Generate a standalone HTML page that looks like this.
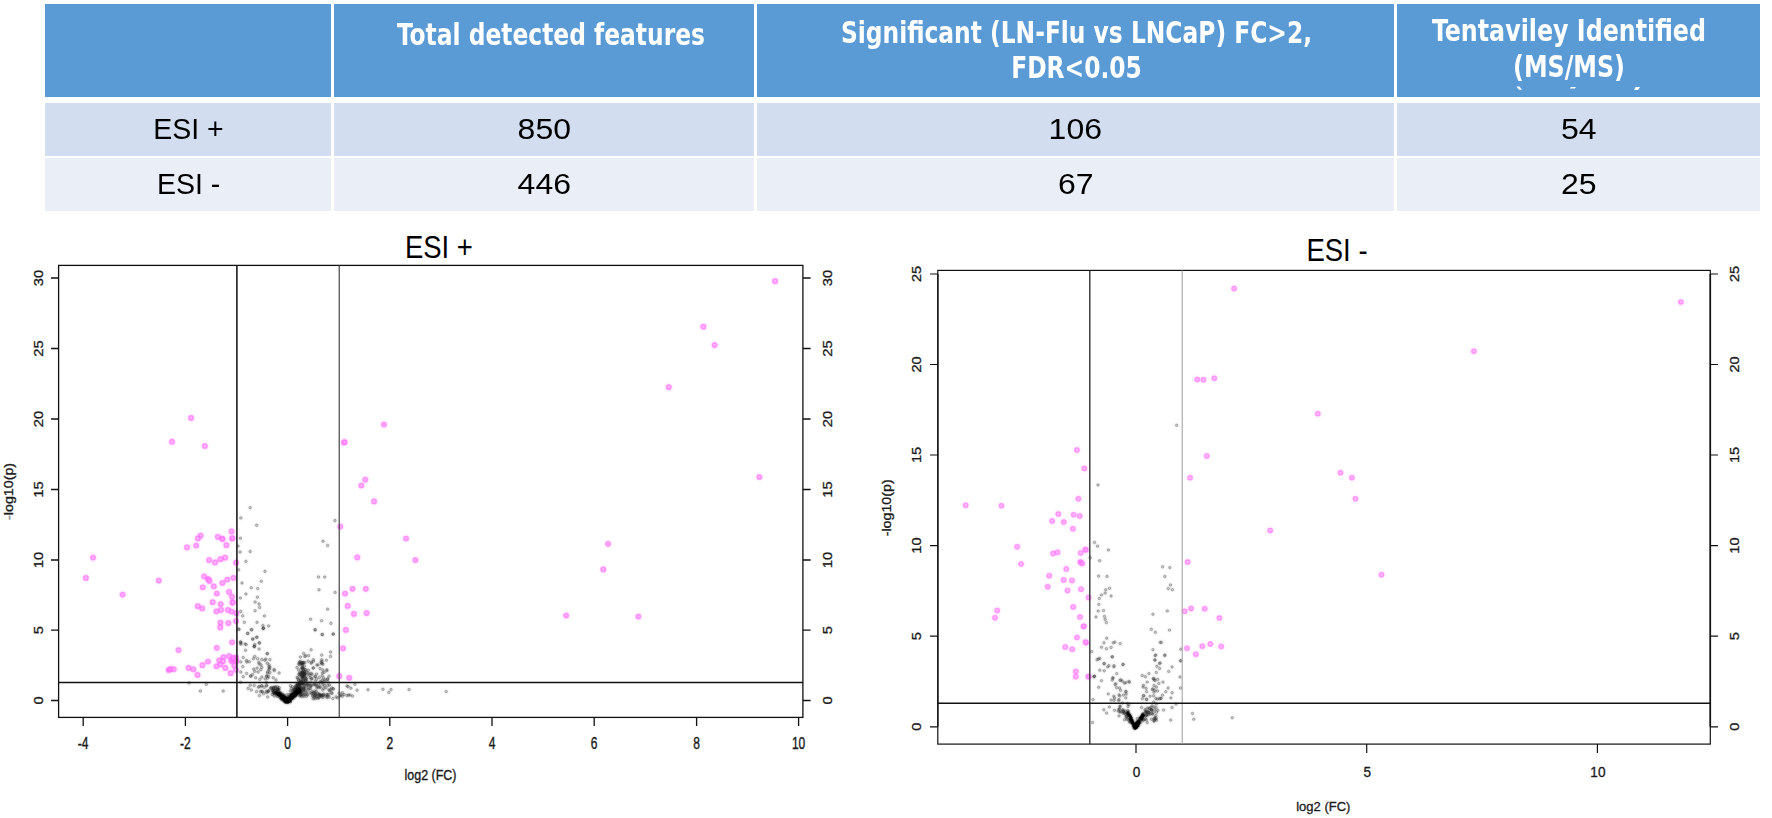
<!DOCTYPE html>
<html lang="en">
<head>
<meta charset="utf-8">
<title>ESI feature summary and volcano plots</title>
<style>
html,body{margin:0;padding:0;background:#fff;}
body{width:1772px;height:818px;position:relative;overflow:hidden;font-family:"Liberation Sans",sans-serif;}
.cell{position:absolute;box-sizing:border-box;display:flex;align-items:center;justify-content:center;text-align:center;}
.hd{background:#5b9bd5;top:4px;height:93px;}
.ht{position:absolute;color:#fff;font-family:"DejaVu Sans Condensed","DejaVu Sans","Liberation Sans",sans-serif;font-weight:bold;font-size:29.7px;line-height:35.4px;text-align:center;white-space:nowrap;transform:scaleX(.875);transform-origin:50% 50%;}
.r1{background:#d2deef;top:102.8px;height:52.9px;color:#000;font-size:30.3px;}
.r2{background:#eaeff7;top:157.7px;height:53.6px;color:#000;font-size:30.3px;}
.c1{left:45px;width:286px;}
.c2{left:334px;width:420px;}
.c3{left:757px;width:637px;}
.c4{left:1397px;width:363px;}
.cell span{position:relative;display:block;transform:scaleX(1.055);}
.c1 span{transform:scaleX(.94);left:.7px}
svg{position:absolute;left:0;top:0;}
svg text{font-family:"Liberation Sans",sans-serif;fill:#000;}
.ax{fill:#1a1a1a;stroke:#1a1a1a;stroke-width:.3px;}
.ttl{font-size:31.6px;}
.m{fill:#ff8cff;fill-opacity:.5;stroke:#ff4ffa;stroke-width:1.5;stroke-opacity:.78}
.n{stroke-width:1.3}
.g{fill:#000;fill-opacity:.16;stroke:#000;stroke-width:.85;stroke-opacity:.36}
.v{fill:#000;fill-opacity:.3;stroke:#000;stroke-width:.8;stroke-opacity:.35}
.soft{filter:blur(.8px)}
</style>
</head>
<body>
<!-- summary table -->
<div class="cell hd c1"></div>
<div class="cell hd c2"></div>
<div class="cell hd c3"></div>
<div class="cell hd c4"></div>
<div class="ht" style="left:334px;width:434px;top:17.3px">Total detected features</div>
<div class="ht" style="left:757px;width:639px;top:15px">Significant (LN-Flu vs LNCaP) FC&gt;2,<br>FDR&lt;0.05</div>
<div class="ht" style="left:1398px;width:342px;top:13.2px;transform:scaleX(.89)">Tentaviley Identified<br>(MS/MS)</div>

<div class="cell r1 c1"><span>ESI +</span></div>
<div class="cell r1 c2"><span>850</span></div>
<div class="cell r1 c3"><span>106</span></div>
<div class="cell r1 c4"><span>54</span></div>

<div class="cell r2 c1"><span>ESI -</span></div>
<div class="cell r2 c2"><span>446</span></div>
<div class="cell r2 c3"><span>67</span></div>
<div class="cell r2 c4"><span>25</span></div>

<svg width="1772" height="818" viewBox="0 0 1772 818">
<!-- clipped marks under (MS/MS) -->
<g fill="#fff"><path d="M1516.5 86.5l3 0l2.5 3.3l-3 0z"/><path d="M1571 87l5 0l-1.2 1.6l-5 0z"/><path d="M1635.5 87l4.5 0l-1.8 3l-4 0z"/></g>
<text class="ttl" text-anchor="middle" transform="translate(438.9,257.5) scale(.87,1)">ESI +</text>
<text class="ttl" text-anchor="middle" transform="translate(1337,260.5) scale(.87,1)">ESI -</text>
<use href="#lpg" class="soft" opacity=".5"/><use href="#rpg" class="soft" opacity=".5"/><use href="#lpd" class="soft" opacity=".55"/><use href="#rpd" class="soft" opacity=".55"/><use href="#lpv" class="soft" opacity=".5"/><use href="#rpv" class="soft" opacity=".5"/>
<g opacity=".78">
<g id="lpg"><circle class="g" cx="348.1" cy="686.6" r="1.25"/><circle class="g" cx="354.9" cy="684.3" r="1.25"/><circle class="g" cx="357.1" cy="690.2" r="1.25"/><circle class="g" cx="368.0" cy="689.7" r="1.25"/><circle class="g" cx="382.9" cy="689.3" r="1.25"/><circle class="g" cx="388.8" cy="692.5" r="1.25"/><circle class="g" cx="391.0" cy="689.6" r="1.25"/><circle class="g" cx="409.1" cy="689.6" r="1.25"/><circle class="g" cx="446.2" cy="691.6" r="1.25"/><circle class="g" cx="341.0" cy="695.0" r="1.25"/><circle class="g" cx="344.0" cy="694.5" r="1.25"/><circle class="g" cx="347.0" cy="695.5" r="1.25"/><circle class="g" cx="350.0" cy="695.0" r="1.25"/><circle class="g" cx="352.5" cy="696.0" r="1.25"/><circle class="g" cx="347.0" cy="686.0" r="1.25"/><circle class="g" cx="340.0" cy="696.0" r="1.25"/><circle class="g" cx="348.5" cy="695.0" r="1.25"/><circle class="g" cx="250.2" cy="507.7" r="1.25"/><circle class="g" cx="240.8" cy="517.9" r="1.25"/><circle class="g" cx="334.9" cy="520.6" r="1.25"/><circle class="g" cx="256.7" cy="525.3" r="1.25"/><circle class="g" cx="240.4" cy="538.2" r="1.25"/><circle class="g" cx="323.0" cy="541.2" r="1.25"/><circle class="g" cx="327.6" cy="545.5" r="1.25"/><circle class="g" cx="238.0" cy="546.1" r="1.25"/><circle class="g" cx="240.0" cy="552.0" r="1.25"/><circle class="g" cx="250.2" cy="551.5" r="1.25"/><circle class="g" cx="245.9" cy="561.4" r="1.25"/><circle class="g" cx="238.5" cy="569.8" r="1.25"/><circle class="g" cx="265.0" cy="571.3" r="1.25"/><circle class="g" cx="318.5" cy="577.0" r="1.25"/><circle class="g" cx="324.7" cy="577.0" r="1.25"/><circle class="g" cx="261.3" cy="581.3" r="1.25"/><circle class="g" cx="242.0" cy="583.0" r="1.25"/><circle class="g" cx="251.3" cy="587.8" r="1.25"/><circle class="g" cx="257.7" cy="588.6" r="1.25"/><circle class="g" cx="319.0" cy="589.8" r="1.25"/><circle class="g" cx="335.1" cy="592.4" r="1.25"/><circle class="g" cx="245.9" cy="594.0" r="1.25"/><circle class="g" cx="257.4" cy="597.2" r="1.25"/><circle class="g" cx="240.4" cy="598.1" r="1.25"/><circle class="g" cx="255.1" cy="602.1" r="1.25"/><circle class="g" cx="259.1" cy="604.0" r="1.25"/><circle class="g" cx="259.7" cy="607.6" r="1.25"/><circle class="g" cx="255.1" cy="610.7" r="1.25"/><circle class="g" cx="327.6" cy="609.2" r="1.25"/><circle class="g" cx="240.8" cy="611.5" r="1.25"/><circle class="g" cx="242.7" cy="615.9" r="1.25"/><circle class="g" cx="264.4" cy="615.9" r="1.25"/><circle class="g" cx="310.6" cy="619.2" r="1.25"/><circle class="g" cx="321.6" cy="620.7" r="1.25"/><circle class="g" cx="244.3" cy="622.3" r="1.25"/><circle class="g" cx="257.0" cy="622.3" r="1.25"/><circle class="g" cx="330.9" cy="623.4" r="1.25"/><circle class="g" cx="268.6" cy="625.9" r="1.25"/><circle class="g" cx="262.9" cy="625.4" r="1.25"/><circle class="g" cx="263.4" cy="628.1" r="1.25"/><circle class="g" cx="251.5" cy="629.7" r="1.25"/><circle class="g" cx="315.2" cy="629.7" r="1.25"/><circle class="g" cx="238.5" cy="629.1" r="1.25"/><circle class="g" cx="247.7" cy="633.4" r="1.25"/><circle class="g" cx="322.2" cy="634.5" r="1.25"/><circle class="g" cx="333.3" cy="633.9" r="1.25"/><circle class="g" cx="256.6" cy="637.4" r="1.25"/><circle class="g" cx="252.8" cy="638.9" r="1.25"/><circle class="g" cx="240.4" cy="642.1" r="1.25"/><circle class="g" cx="259.4" cy="642.6" r="1.25"/><circle class="g" cx="245.1" cy="644.0" r="1.25"/><circle class="g" cx="254.7" cy="644.5" r="1.25"/><circle class="g" cx="200.4" cy="691.0" r="1.25"/><circle class="g" cx="223.2" cy="691.0" r="1.25"/><circle class="g" cx="189.1" cy="682.9" r="1.25"/><circle class="g" cx="206.3" cy="684.3" r="1.25"/><circle class="g" cx="239.1" cy="629.4" r="1.25"/><circle class="g" cx="251.6" cy="629.7" r="1.25"/><circle class="g" cx="263.1" cy="628.7" r="1.25"/><circle class="g" cx="263.5" cy="628.3" r="1.25"/><circle class="g" cx="247.6" cy="633.4" r="1.25"/><circle class="g" cx="257.0" cy="637.1" r="1.25"/><circle class="g" cx="252.7" cy="639.2" r="1.25"/><circle class="g" cx="240.8" cy="642.0" r="1.25"/><circle class="g" cx="240.8" cy="644.2" r="1.25"/><circle class="g" cx="240.9" cy="643.2" r="1.25"/><circle class="g" cx="246.2" cy="644.6" r="1.25"/><circle class="g" cx="259.4" cy="643.2" r="1.25"/><circle class="g" cx="254.3" cy="646.4" r="1.25"/><circle class="g" cx="254.5" cy="646.2" r="1.25"/><circle class="g" cx="254.1" cy="646.7" r="1.25"/><circle class="g" cx="259.1" cy="649.0" r="1.25"/><circle class="g" cx="245.5" cy="650.3" r="1.25"/><circle class="g" cx="267.2" cy="653.7" r="1.25"/><circle class="g" cx="267.4" cy="653.5" r="1.25"/><circle class="g" cx="254.7" cy="656.4" r="1.25"/><circle class="g" cx="243.2" cy="657.5" r="1.25"/><circle class="g" cx="246.6" cy="660.5" r="1.25"/><circle class="g" cx="261.8" cy="659.5" r="1.25"/><circle class="g" cx="264.8" cy="660.2" r="1.25"/><circle class="g" cx="269.9" cy="659.7" r="1.25"/><circle class="g" cx="240.8" cy="661.9" r="1.25"/><circle class="g" cx="259.1" cy="663.9" r="1.25"/><circle class="g" cx="267.2" cy="663.2" r="1.25"/><circle class="g" cx="242.8" cy="666.6" r="1.25"/><circle class="g" cx="261.8" cy="667.3" r="1.25"/><circle class="g" cx="253.7" cy="669.0" r="1.25"/><circle class="g" cx="268.9" cy="669.3" r="1.25"/><circle class="g" cx="240.8" cy="672.0" r="1.25"/><circle class="g" cx="258.1" cy="672.0" r="1.25"/><circle class="g" cx="269.9" cy="672.7" r="1.25"/><circle class="g" cx="279.1" cy="673.0" r="1.25"/><circle class="g" cx="246.6" cy="673.4" r="1.25"/><circle class="g" cx="250.6" cy="676.2" r="1.25"/><circle class="g" cx="250.8" cy="676.0" r="1.25"/><circle class="g" cx="243.2" cy="676.7" r="1.25"/><circle class="g" cx="255.7" cy="677.8" r="1.25"/><circle class="g" cx="261.8" cy="677.1" r="1.25"/><circle class="g" cx="268.6" cy="676.4" r="1.25"/><circle class="g" cx="273.3" cy="677.8" r="1.25"/><circle class="g" cx="276.0" cy="680.1" r="1.25"/><circle class="g" cx="315.1" cy="629.9" r="1.25"/><circle class="g" cx="322.3" cy="634.6" r="1.25"/><circle class="g" cx="333.2" cy="634.2" r="1.25"/><circle class="g" cx="311.1" cy="649.8" r="1.25"/><circle class="g" cx="303.6" cy="653.4" r="1.25"/><circle class="g" cx="330.6" cy="652.0" r="1.25"/><circle class="g" cx="330.5" cy="656.4" r="1.25"/><circle class="g" cx="321.7" cy="655.1" r="1.25"/><circle class="g" cx="300.4" cy="657.1" r="1.25"/><circle class="g" cx="304.8" cy="656.4" r="1.25"/><circle class="g" cx="326.4" cy="660.2" r="1.25"/><circle class="g" cx="321.7" cy="659.8" r="1.25"/><circle class="g" cx="308.2" cy="661.2" r="1.25"/><circle class="g" cx="311.2" cy="663.2" r="1.25"/><circle class="g" cx="302.1" cy="663.9" r="1.25"/><circle class="g" cx="302.3" cy="663.6" r="1.25"/><circle class="g" cx="301.9" cy="664.2" r="1.25"/><circle class="g" cx="321.7" cy="663.5" r="1.25"/><circle class="g" cx="321.9" cy="663.3" r="1.25"/><circle class="g" cx="318.0" cy="664.9" r="1.25"/><circle class="g" cx="313.2" cy="668.1" r="1.25"/><circle class="g" cx="313.4" cy="667.9" r="1.25"/><circle class="g" cx="320.0" cy="668.6" r="1.25"/><circle class="g" cx="302.4" cy="668.6" r="1.25"/><circle class="g" cx="302.6" cy="668.3" r="1.25"/><circle class="g" cx="326.8" cy="670.7" r="1.25"/><circle class="g" cx="324.1" cy="672.3" r="1.25"/><circle class="g" cx="302.4" cy="672.0" r="1.25"/><circle class="g" cx="302.6" cy="671.7" r="1.25"/><circle class="g" cx="307.8" cy="672.7" r="1.25"/><circle class="g" cx="329.0" cy="676.2" r="1.25"/><circle class="g" cx="299.7" cy="675.4" r="1.25"/><circle class="g" cx="303.1" cy="676.7" r="1.25"/><circle class="g" cx="309.9" cy="675.4" r="1.25"/><circle class="g" cx="315.3" cy="676.7" r="1.25"/><circle class="g" cx="319.3" cy="677.4" r="1.25"/><circle class="g" cx="297.7" cy="678.1" r="1.25"/><circle class="g" cx="306.5" cy="678.8" r="1.25"/><circle class="g" cx="311.9" cy="678.4" r="1.25"/><circle class="g" cx="301.9" cy="676.0" r="1.25"/><circle class="g" cx="303.6" cy="662.7" r="1.25"/><circle class="g" cx="300.5" cy="662.3" r="1.25"/><circle class="g" cx="302.0" cy="672.7" r="1.25"/><circle class="g" cx="304.8" cy="662.6" r="1.25"/><circle class="g" cx="303.0" cy="663.1" r="1.25"/><circle class="g" cx="298.8" cy="663.8" r="1.25"/><circle class="g" cx="304.4" cy="666.1" r="1.25"/><circle class="g" cx="298.8" cy="674.3" r="1.25"/><circle class="g" cx="298.7" cy="670.1" r="1.25"/><circle class="g" cx="303.2" cy="680.7" r="1.25"/><circle class="g" cx="302.4" cy="667.7" r="1.25"/><circle class="g" cx="303.2" cy="668.1" r="1.25"/><circle class="g" cx="303.4" cy="679.8" r="1.25"/><circle class="g" cx="303.7" cy="675.7" r="1.25"/><circle class="g" cx="305.1" cy="669.6" r="1.25"/><circle class="g" cx="301.7" cy="662.4" r="1.25"/><circle class="g" cx="302.3" cy="665.7" r="1.25"/><circle class="g" cx="301.5" cy="668.2" r="1.25"/><circle class="g" cx="300.4" cy="674.5" r="1.25"/><circle class="g" cx="300.7" cy="679.3" r="1.25"/><circle class="g" cx="303.0" cy="677.1" r="1.25"/><circle class="g" cx="302.6" cy="673.1" r="1.25"/><circle class="g" cx="305.4" cy="681.1" r="1.25"/><circle class="g" cx="302.3" cy="683.5" r="1.25"/><circle class="g" cx="300.7" cy="663.7" r="1.25"/><circle class="g" cx="299.3" cy="664.5" r="1.25"/><circle class="g" cx="304.3" cy="672.2" r="1.25"/><circle class="g" cx="305.7" cy="678.6" r="1.25"/><circle class="g" cx="303.3" cy="674.2" r="1.25"/><circle class="g" cx="303.9" cy="677.0" r="1.25"/><circle class="g" cx="301.2" cy="674.7" r="1.25"/><circle class="g" cx="300.4" cy="680.3" r="1.25"/><circle class="g" cx="301.3" cy="682.7" r="1.25"/><circle class="g" cx="299.3" cy="662.4" r="1.25"/><circle class="g" cx="303.0" cy="677.1" r="1.25"/><circle class="g" cx="298.3" cy="679.9" r="1.25"/><circle class="g" cx="297.0" cy="667.5" r="1.25"/><circle class="g" cx="300.0" cy="661.5" r="1.25"/><circle class="g" cx="304.7" cy="671.6" r="1.25"/><circle class="g" cx="303.0" cy="662.4" r="1.25"/><circle class="g" cx="303.5" cy="678.7" r="1.25"/><circle class="g" cx="303.6" cy="670.0" r="1.25"/><circle class="g" cx="303.7" cy="681.0" r="1.25"/><circle class="g" cx="304.6" cy="673.6" r="1.25"/><circle class="g" cx="305.4" cy="683.5" r="1.25"/><circle class="g" cx="306.4" cy="675.6" r="1.25"/><circle class="g" cx="297.2" cy="677.4" r="1.25"/><circle class="g" cx="298.9" cy="684.5" r="1.25"/><circle class="g" cx="309.1" cy="674.0" r="1.25"/><circle class="g" cx="304.6" cy="675.0" r="1.25"/><circle class="g" cx="305.8" cy="678.3" r="1.25"/><circle class="g" cx="301.2" cy="672.1" r="1.25"/><circle class="g" cx="302.0" cy="677.4" r="1.25"/><circle class="g" cx="300.4" cy="684.4" r="1.25"/><circle class="g" cx="306.8" cy="681.0" r="1.25"/><circle class="g" cx="298.7" cy="680.8" r="1.25"/><circle class="g" cx="303.0" cy="672.7" r="1.25"/><circle class="g" cx="308.4" cy="683.4" r="1.25"/><circle class="g" cx="299.9" cy="682.4" r="1.25"/><circle class="g" cx="300.7" cy="673.3" r="1.25"/><circle class="g" cx="305.7" cy="680.2" r="1.25"/><circle class="g" cx="304.7" cy="674.7" r="1.25"/><circle class="g" cx="304.0" cy="674.1" r="1.25"/><circle class="g" cx="302.9" cy="672.0" r="1.25"/><circle class="g" cx="304.5" cy="674.0" r="1.25"/><circle class="g" cx="306.2" cy="672.3" r="1.25"/><circle class="g" cx="305.5" cy="683.4" r="1.25"/><circle class="g" cx="302.0" cy="675.3" r="1.25"/><circle class="g" cx="302.2" cy="676.5" r="1.25"/><circle class="g" cx="302.3" cy="683.0" r="1.25"/><circle class="g" cx="304.9" cy="684.9" r="1.25"/><circle class="g" cx="299.6" cy="673.1" r="1.25"/><circle class="g" cx="304.4" cy="673.3" r="1.25"/><circle class="g" cx="302.0" cy="682.8" r="1.25"/><circle class="g" cx="308.7" cy="655.6" r="1.25"/><circle class="g" cx="326.9" cy="669.8" r="1.25"/><circle class="g" cx="308.4" cy="670.2" r="1.25"/><circle class="g" cx="305.6" cy="669.8" r="1.25"/><circle class="g" cx="327.5" cy="679.2" r="1.25"/><circle class="g" cx="321.0" cy="662.3" r="1.25"/><circle class="g" cx="313.4" cy="659.7" r="1.25"/><circle class="g" cx="322.8" cy="669.9" r="1.25"/><circle class="g" cx="322.9" cy="664.2" r="1.25"/><circle class="g" cx="310.1" cy="677.7" r="1.25"/><circle class="g" cx="327.7" cy="678.9" r="1.25"/><circle class="g" cx="323.5" cy="677.9" r="1.25"/><circle class="g" cx="322.0" cy="661.3" r="1.25"/><circle class="g" cx="316.9" cy="665.0" r="1.25"/><circle class="g" cx="305.7" cy="655.8" r="1.25"/><circle class="g" cx="311.4" cy="662.3" r="1.25"/><circle class="g" cx="320.9" cy="681.8" r="1.25"/><circle class="g" cx="315.3" cy="681.2" r="1.25"/><circle class="g" cx="327.7" cy="681.7" r="1.25"/><circle class="g" cx="313.4" cy="661.2" r="1.25"/><circle class="g" cx="312.1" cy="674.2" r="1.25"/><circle class="g" cx="311.7" cy="678.9" r="1.25"/><circle class="g" cx="324.2" cy="681.2" r="1.25"/><circle class="g" cx="316.6" cy="679.2" r="1.25"/><circle class="g" cx="322.4" cy="672.9" r="1.25"/><circle class="g" cx="319.9" cy="682.0" r="1.25"/><circle class="g" cx="322.1" cy="680.3" r="1.25"/><circle class="g" cx="316.6" cy="674.0" r="1.25"/><circle class="g" cx="322.2" cy="675.7" r="1.25"/><circle class="g" cx="322.4" cy="682.7" r="1.25"/><circle class="g" cx="315.1" cy="676.4" r="1.25"/><circle class="g" cx="325.0" cy="680.0" r="1.25"/><circle class="g" cx="311.1" cy="673.4" r="1.25"/><circle class="g" cx="310.7" cy="682.0" r="1.25"/><circle class="g" cx="265.8" cy="659.1" r="1.25"/><circle class="g" cx="266.4" cy="682.4" r="1.25"/><circle class="g" cx="261.0" cy="664.8" r="1.25"/><circle class="g" cx="257.6" cy="658.7" r="1.25"/><circle class="g" cx="240.5" cy="682.2" r="1.25"/><circle class="g" cx="260.8" cy="669.7" r="1.25"/><circle class="g" cx="269.9" cy="667.1" r="1.25"/><circle class="g" cx="267.9" cy="678.1" r="1.25"/><circle class="g" cx="246.8" cy="662.1" r="1.25"/><circle class="g" cx="249.4" cy="661.7" r="1.25"/><circle class="g" cx="258.8" cy="662.3" r="1.25"/><circle class="g" cx="253.4" cy="658.7" r="1.25"/><circle class="g" cx="269.1" cy="664.9" r="1.25"/><circle class="g" cx="254.7" cy="671.3" r="1.25"/><circle class="g" cx="268.9" cy="666.8" r="1.25"/><circle class="g" cx="269.4" cy="669.0" r="1.25"/><circle class="g" cx="266.9" cy="675.9" r="1.25"/><circle class="g" cx="252.5" cy="674.6" r="1.25"/><circle class="g" cx="257.1" cy="668.1" r="1.25"/><circle class="g" cx="274.4" cy="670.6" r="1.25"/><circle class="g" cx="265.3" cy="678.9" r="1.25"/><circle class="g" cx="267.6" cy="672.9" r="1.25"/><circle class="g" cx="266.5" cy="676.3" r="1.25"/><circle class="g" cx="274.0" cy="669.6" r="1.25"/><circle class="g" cx="267.7" cy="671.7" r="1.25"/><circle class="g" cx="259.8" cy="679.6" r="1.25"/><circle class="g" cx="268.2" cy="691.7" r="1.25"/><circle class="g" cx="274.2" cy="695.9" r="1.25"/><circle class="g" cx="266.6" cy="692.4" r="1.25"/><circle class="g" cx="268.1" cy="691.1" r="1.25"/><circle class="g" cx="272.6" cy="690.4" r="1.25"/><circle class="g" cx="268.8" cy="690.7" r="1.25"/><circle class="g" cx="278.6" cy="693.4" r="1.25"/><circle class="g" cx="277.0" cy="696.3" r="1.25"/><circle class="g" cx="262.2" cy="691.7" r="1.25"/><circle class="g" cx="278.6" cy="695.1" r="1.25"/><circle class="g" cx="259.3" cy="686.5" r="1.25"/><circle class="g" cx="266.6" cy="685.9" r="1.25"/><circle class="g" cx="261.8" cy="685.9" r="1.25"/><circle class="g" cx="272.1" cy="694.4" r="1.25"/><circle class="g" cx="277.5" cy="686.9" r="1.25"/><circle class="g" cx="273.2" cy="692.9" r="1.25"/><circle class="g" cx="259.4" cy="695.6" r="1.25"/><circle class="g" cx="279.2" cy="687.6" r="1.25"/><circle class="g" cx="278.9" cy="689.8" r="1.25"/><circle class="g" cx="267.7" cy="696.9" r="1.25"/><circle class="g" cx="276.0" cy="686.9" r="1.25"/><circle class="g" cx="266.4" cy="691.2" r="1.25"/><circle class="g" cx="264.1" cy="687.3" r="1.25"/><circle class="g" cx="263.6" cy="693.7" r="1.25"/><circle class="g" cx="256.5" cy="691.6" r="1.25"/><circle class="g" cx="266.6" cy="685.2" r="1.25"/><circle class="g" cx="251.3" cy="690.0" r="1.25"/><circle class="g" cx="254.2" cy="685.5" r="1.25"/><circle class="g" cx="261.8" cy="691.3" r="1.25"/><circle class="g" cx="261.5" cy="685.8" r="1.25"/><circle class="g" cx="250.2" cy="685.3" r="1.25"/><circle class="g" cx="258.5" cy="687.2" r="1.25"/><circle class="g" cx="248.1" cy="688.4" r="1.25"/><circle class="g" cx="260.6" cy="691.6" r="1.25"/><circle class="g" cx="311.0" cy="686.2" r="1.25"/><circle class="g" cx="331.5" cy="692.6" r="1.25"/><circle class="g" cx="324.7" cy="685.3" r="1.25"/><circle class="g" cx="304.8" cy="694.3" r="1.25"/><circle class="g" cx="316.2" cy="685.1" r="1.25"/><circle class="g" cx="332.1" cy="693.5" r="1.25"/><circle class="g" cx="327.9" cy="685.3" r="1.25"/><circle class="g" cx="329.5" cy="685.0" r="1.25"/><circle class="g" cx="329.7" cy="690.8" r="1.25"/><circle class="g" cx="313.5" cy="692.3" r="1.25"/><circle class="g" cx="331.7" cy="688.0" r="1.25"/><circle class="g" cx="307.0" cy="691.9" r="1.25"/><circle class="g" cx="310.4" cy="685.6" r="1.25"/><circle class="g" cx="308.0" cy="684.8" r="1.25"/><circle class="g" cx="309.3" cy="688.7" r="1.25"/><circle class="g" cx="312.5" cy="695.4" r="1.25"/><circle class="g" cx="312.0" cy="691.5" r="1.25"/><circle class="g" cx="308.5" cy="689.2" r="1.25"/><circle class="g" cx="303.6" cy="687.8" r="1.25"/><circle class="g" cx="303.5" cy="695.0" r="1.25"/><circle class="g" cx="320.1" cy="686.8" r="1.25"/><circle class="g" cx="317.7" cy="698.0" r="1.25"/><circle class="g" cx="306.3" cy="696.3" r="1.25"/><circle class="g" cx="316.4" cy="691.4" r="1.25"/><circle class="g" cx="328.9" cy="689.9" r="1.25"/><circle class="g" cx="318.7" cy="694.3" r="1.25"/><circle class="g" cx="333.5" cy="689.1" r="1.25"/><circle class="g" cx="328.8" cy="694.6" r="1.25"/><circle class="g" cx="322.7" cy="690.1" r="1.25"/><circle class="g" cx="313.8" cy="684.8" r="1.25"/><circle class="g" cx="307.0" cy="685.1" r="1.25"/><circle class="g" cx="326.0" cy="687.8" r="1.25"/><circle class="g" cx="308.1" cy="685.3" r="1.25"/><circle class="g" cx="329.1" cy="697.1" r="1.25"/><circle class="g" cx="323.8" cy="688.2" r="1.25"/><circle class="g" cx="310.5" cy="688.4" r="1.25"/><circle class="g" cx="317.2" cy="686.4" r="1.25"/><circle class="g" cx="316.8" cy="687.9" r="1.25"/><circle class="g" cx="332.8" cy="698.6" r="1.25"/><circle class="g" cx="320.0" cy="687.7" r="1.25"/><circle class="g" cx="332.9" cy="688.6" r="1.25"/><circle class="g" cx="314.1" cy="684.0" r="1.25"/><circle class="g" cx="314.8" cy="691.1" r="1.25"/><circle class="g" cx="318.6" cy="687.0" r="1.25"/><circle class="g" cx="318.6" cy="684.1" r="1.25"/><circle class="g" cx="311.2" cy="685.3" r="1.25"/><circle class="g" cx="315.4" cy="684.6" r="1.25"/><circle class="g" cx="303.7" cy="688.6" r="1.25"/><circle class="g" cx="310.2" cy="692.8" r="1.25"/><circle class="g" cx="319.4" cy="695.3" r="1.25"/><circle class="g" cx="323.4" cy="694.7" r="1.25"/><circle class="g" cx="330.3" cy="689.8" r="1.25"/><circle class="g" cx="313.1" cy="698.8" r="1.25"/><circle class="g" cx="307.6" cy="694.9" r="1.25"/><circle class="g" cx="322.9" cy="684.7" r="1.25"/><circle class="g" cx="322.9" cy="697.4" r="1.25"/><circle class="g" cx="311.8" cy="693.5" r="1.25"/><circle class="g" cx="314.7" cy="695.9" r="1.25"/><circle class="g" cx="317.7" cy="693.4" r="1.25"/><circle class="g" cx="319.2" cy="697.2" r="1.25"/><circle class="g" cx="313.0" cy="696.6" r="1.25"/><circle class="g" cx="314.7" cy="697.6" r="1.25"/><circle class="g" cx="315.7" cy="695.0" r="1.25"/><circle class="g" cx="317.0" cy="696.4" r="1.25"/><circle class="g" cx="320.5" cy="695.0" r="1.25"/><circle class="g" cx="321.6" cy="696.7" r="1.25"/><circle class="g" cx="315.1" cy="693.7" r="1.25"/><circle class="g" cx="315.5" cy="694.6" r="1.25"/><circle class="g" cx="315.3" cy="698.7" r="1.25"/><circle class="g" cx="320.2" cy="695.5" r="1.25"/><circle class="g" cx="314.7" cy="692.9" r="1.25"/><circle class="g" cx="318.6" cy="698.2" r="1.25"/><circle class="g" cx="323.0" cy="695.5" r="1.25"/><circle class="g" cx="321.8" cy="695.2" r="1.25"/><circle class="g" cx="327.2" cy="696.3" r="1.25"/><circle class="g" cx="327.1" cy="697.6" r="1.25"/><circle class="g" cx="319.2" cy="694.0" r="1.25"/><circle class="g" cx="323.5" cy="694.3" r="1.25"/><circle class="g" cx="313.0" cy="693.6" r="1.25"/><circle class="g" cx="315.7" cy="696.4" r="1.25"/><circle class="g" cx="321.2" cy="695.4" r="1.25"/><circle class="g" cx="327.4" cy="694.7" r="1.25"/><circle class="g" cx="325.5" cy="696.1" r="1.25"/><circle class="g" cx="320.1" cy="695.2" r="1.25"/><circle class="g" cx="326.7" cy="694.5" r="1.25"/><circle class="g" cx="339.2" cy="693.2" r="1.25"/><circle class="g" cx="342.4" cy="692.7" r="1.25"/><circle class="g" cx="336.1" cy="696.9" r="1.25"/><circle class="g" cx="337.6" cy="697.8" r="1.25"/><circle class="g" cx="350.9" cy="688.2" r="1.25"/><circle class="g" cx="342.3" cy="696.2" r="1.25"/><circle class="g" cx="298.4" cy="693.6" r="1.25"/><circle class="g" cx="299.1" cy="693.1" r="1.25"/><circle class="g" cx="301.1" cy="691.6" r="1.25"/><circle class="g" cx="303.7" cy="689.4" r="1.25"/><circle class="g" cx="297.7" cy="688.7" r="1.25"/><circle class="g" cx="296.1" cy="695.4" r="1.25"/><circle class="g" cx="305.3" cy="691.1" r="1.25"/><circle class="g" cx="301.0" cy="694.3" r="1.25"/><circle class="g" cx="301.9" cy="694.4" r="1.25"/><circle class="g" cx="294.5" cy="689.2" r="1.25"/><circle class="g" cx="300.6" cy="695.0" r="1.25"/><circle class="g" cx="299.4" cy="688.6" r="1.25"/><circle class="g" cx="297.7" cy="689.2" r="1.25"/><circle class="g" cx="295.9" cy="695.2" r="1.25"/><circle class="g" cx="296.7" cy="691.1" r="1.25"/><circle class="g" cx="306.8" cy="694.3" r="1.25"/><circle class="g" cx="300.2" cy="689.3" r="1.25"/><circle class="g" cx="300.5" cy="695.5" r="1.25"/><circle class="g" cx="301.2" cy="694.5" r="1.25"/><circle class="g" cx="299.4" cy="692.4" r="1.25"/><circle class="g" cx="298.3" cy="692.2" r="1.25"/><circle class="g" cx="303.7" cy="687.0" r="1.25"/><circle class="g" cx="298.8" cy="691.7" r="1.25"/><circle class="g" cx="296.9" cy="690.1" r="1.25"/><circle class="g" cx="301.8" cy="696.6" r="1.25"/><circle class="g" cx="301.3" cy="691.9" r="1.25"/><circle class="g" cx="293.4" cy="696.4" r="1.25"/><circle class="g" cx="299.3" cy="690.9" r="1.25"/><circle class="g" cx="295.0" cy="690.8" r="1.25"/><circle class="g" cx="295.1" cy="691.2" r="1.25"/><circle class="g" cx="300.7" cy="691.1" r="1.25"/><circle class="g" cx="300.0" cy="688.6" r="1.25"/><circle class="g" cx="304.1" cy="689.2" r="1.25"/><circle class="g" cx="292.5" cy="690.5" r="1.25"/><circle class="g" cx="296.3" cy="688.2" r="1.25"/><circle class="g" cx="297.7" cy="691.8" r="1.25"/><circle class="g" cx="294.7" cy="690.6" r="1.25"/><circle class="g" cx="304.1" cy="692.9" r="1.25"/><circle class="g" cx="298.5" cy="691.4" r="1.25"/><circle class="g" cx="298.6" cy="690.9" r="1.25"/><circle class="g" cx="301.6" cy="690.7" r="1.25"/><circle class="g" cx="290.3" cy="690.9" r="1.25"/><circle class="g" cx="295.8" cy="692.8" r="1.25"/><circle class="g" cx="296.8" cy="691.4" r="1.25"/><circle class="g" cx="306.8" cy="688.1" r="1.25"/><circle class="g" cx="295.0" cy="687.0" r="1.25"/><circle class="g" cx="290.4" cy="685.7" r="1.25"/><circle class="g" cx="300.3" cy="689.2" r="1.25"/><circle class="g" cx="292.3" cy="686.8" r="1.25"/><circle class="g" cx="301.2" cy="688.8" r="1.25"/><circle class="g" cx="297.7" cy="691.9" r="1.25"/><circle class="g" cx="303.9" cy="696.4" r="1.25"/><circle class="g" cx="302.7" cy="691.4" r="1.25"/><circle class="g" cx="299.7" cy="696.0" r="1.25"/><circle class="g" cx="304.1" cy="690.1" r="1.25"/><circle class="g" cx="300.6" cy="691.8" r="1.25"/><circle class="g" cx="299.2" cy="689.6" r="1.25"/><circle class="g" cx="294.2" cy="689.5" r="1.25"/><circle class="g" cx="293.4" cy="694.4" r="1.25"/><circle class="g" cx="300.9" cy="687.6" r="1.25"/><circle class="g" cx="277.6" cy="689.7" r="1.25"/><circle class="g" cx="273.3" cy="691.4" r="1.25"/><circle class="g" cx="282.7" cy="699.3" r="1.25"/><circle class="g" cx="287.8" cy="701.7" r="1.25"/><circle class="g" cx="273.9" cy="692.6" r="1.25"/><circle class="g" cx="279.7" cy="696.9" r="1.25"/><circle class="g" cx="276.0" cy="690.4" r="1.25"/><circle class="g" cx="282.2" cy="695.5" r="1.25"/><circle class="g" cx="282.8" cy="696.2" r="1.25"/><circle class="g" cx="279.9" cy="697.5" r="1.25"/><circle class="g" cx="273.5" cy="688.6" r="1.25"/><circle class="g" cx="280.1" cy="692.6" r="1.25"/><circle class="g" cx="283.0" cy="695.1" r="1.25"/><circle class="g" cx="281.0" cy="697.8" r="1.25"/><circle class="g" cx="273.8" cy="689.3" r="1.25"/><circle class="g" cx="283.9" cy="698.0" r="1.25"/><circle class="g" cx="281.3" cy="699.4" r="1.25"/><circle class="g" cx="275.0" cy="690.2" r="1.25"/><circle class="g" cx="283.9" cy="696.1" r="1.25"/><circle class="g" cx="271.3" cy="687.5" r="1.25"/><circle class="g" cx="277.8" cy="690.2" r="1.25"/><circle class="g" cx="277.2" cy="693.7" r="1.25"/><circle class="g" cx="278.2" cy="691.3" r="1.25"/><circle class="g" cx="278.4" cy="694.4" r="1.25"/><circle class="g" cx="274.8" cy="690.8" r="1.25"/><circle class="g" cx="289.3" cy="700.8" r="1.25"/><circle class="g" cx="275.0" cy="687.0" r="1.25"/><circle class="g" cx="273.6" cy="688.6" r="1.25"/><circle class="g" cx="281.2" cy="693.1" r="1.25"/><circle class="g" cx="273.4" cy="690.9" r="1.25"/><circle class="g" cx="286.2" cy="699.5" r="1.25"/><circle class="g" cx="272.9" cy="691.0" r="1.25"/><circle class="g" cx="277.3" cy="689.3" r="1.25"/><circle class="g" cx="279.2" cy="694.7" r="1.25"/><circle class="g" cx="282.9" cy="697.2" r="1.25"/><circle class="g" cx="277.4" cy="689.4" r="1.25"/><circle class="g" cx="284.1" cy="696.3" r="1.25"/><circle class="g" cx="286.9" cy="697.9" r="1.25"/><circle class="g" cx="273.6" cy="687.2" r="1.25"/><circle class="g" cx="271.5" cy="688.5" r="1.25"/><circle class="g" cx="273.5" cy="687.8" r="1.25"/><circle class="g" cx="276.7" cy="695.0" r="1.25"/><circle class="g" cx="288.4" cy="699.5" r="1.25"/><circle class="g" cx="288.9" cy="698.5" r="1.25"/><circle class="g" cx="278.7" cy="689.1" r="1.25"/><circle class="g" cx="279.7" cy="695.1" r="1.25"/><circle class="g" cx="283.0" cy="694.6" r="1.25"/><circle class="g" cx="275.4" cy="692.5" r="1.25"/><circle class="g" cx="278.7" cy="694.9" r="1.25"/><circle class="g" cx="277.2" cy="688.8" r="1.25"/><circle class="g" cx="270.7" cy="688.1" r="1.25"/><circle class="g" cx="277.0" cy="693.4" r="1.25"/><circle class="g" cx="288.4" cy="697.3" r="1.25"/><circle class="g" cx="277.9" cy="690.0" r="1.25"/><circle class="g" cx="279.1" cy="692.8" r="1.25"/><circle class="g" cx="295.7" cy="690.3" r="1.25"/><circle class="g" cx="286.8" cy="694.8" r="1.25"/><circle class="g" cx="291.4" cy="688.5" r="1.25"/><circle class="g" cx="289.0" cy="698.9" r="1.25"/><circle class="g" cx="299.5" cy="686.9" r="1.25"/><circle class="g" cx="288.9" cy="696.5" r="1.25"/><circle class="g" cx="297.8" cy="684.6" r="1.25"/><circle class="g" cx="300.2" cy="683.3" r="1.25"/><circle class="g" cx="301.6" cy="683.3" r="1.25"/><circle class="g" cx="297.8" cy="692.1" r="1.25"/><circle class="g" cx="301.2" cy="682.0" r="1.25"/><circle class="g" cx="293.4" cy="694.1" r="1.25"/><circle class="g" cx="295.2" cy="689.7" r="1.25"/><circle class="g" cx="295.6" cy="692.7" r="1.25"/><circle class="g" cx="300.9" cy="687.5" r="1.25"/><circle class="g" cx="291.0" cy="695.8" r="1.25"/><circle class="g" cx="289.8" cy="697.1" r="1.25"/><circle class="g" cx="302.9" cy="684.0" r="1.25"/><circle class="g" cx="295.1" cy="689.5" r="1.25"/><circle class="g" cx="299.6" cy="691.2" r="1.25"/><circle class="g" cx="297.1" cy="683.8" r="1.25"/><circle class="g" cx="297.1" cy="691.0" r="1.25"/><circle class="g" cx="297.0" cy="693.3" r="1.25"/><circle class="g" cx="293.0" cy="692.3" r="1.25"/><circle class="g" cx="293.7" cy="698.2" r="1.25"/><circle class="g" cx="293.0" cy="694.1" r="1.25"/><circle class="g" cx="297.7" cy="688.8" r="1.25"/><circle class="g" cx="299.6" cy="685.4" r="1.25"/><circle class="g" cx="304.6" cy="686.6" r="1.25"/><circle class="g" cx="302.8" cy="683.6" r="1.25"/><circle class="g" cx="299.3" cy="684.5" r="1.25"/><circle class="g" cx="287.6" cy="702.3" r="1.25"/><circle class="g" cx="291.5" cy="695.3" r="1.25"/><circle class="g" cx="292.9" cy="695.3" r="1.25"/><circle class="g" cx="288.8" cy="698.7" r="1.25"/><circle class="g" cx="288.9" cy="697.8" r="1.25"/><circle class="g" cx="297.9" cy="684.0" r="1.25"/><circle class="g" cx="295.8" cy="685.8" r="1.25"/><circle class="g" cx="297.4" cy="684.7" r="1.25"/><circle class="g" cx="294.6" cy="692.4" r="1.25"/><circle class="g" cx="290.8" cy="694.5" r="1.25"/><circle class="g" cx="297.2" cy="691.6" r="1.25"/><circle class="g" cx="291.6" cy="695.4" r="1.25"/><circle class="g" cx="296.8" cy="689.5" r="1.25"/><circle class="g" cx="300.4" cy="682.8" r="1.25"/><circle class="g" cx="298.9" cy="688.0" r="1.25"/><circle class="g" cx="293.2" cy="692.0" r="1.25"/><circle class="g" cx="297.7" cy="687.5" r="1.25"/><circle class="g" cx="297.2" cy="687.0" r="1.25"/><circle class="g" cx="289.0" cy="694.7" r="1.25"/><circle class="g" cx="295.6" cy="690.6" r="1.25"/><circle class="g" cx="298.7" cy="685.6" r="1.25"/><circle class="g" cx="299.4" cy="683.1" r="1.25"/><circle class="g" cx="298.3" cy="689.8" r="1.25"/><circle class="g" cx="293.7" cy="689.8" r="1.25"/><circle class="g" cx="301.7" cy="684.0" r="1.25"/><circle class="g" cx="298.7" cy="690.8" r="1.25"/><circle class="g" cx="296.2" cy="691.9" r="1.25"/><circle class="g" cx="299.4" cy="684.7" r="1.25"/><circle class="g" cx="294.9" cy="692.2" r="1.25"/><circle class="g" cx="298.2" cy="687.4" r="1.25"/><circle class="g" cx="302.0" cy="683.4" r="1.25"/><circle class="g" cx="293.0" cy="694.6" r="1.25"/><circle class="g" cx="301.6" cy="681.7" r="1.25"/><circle class="g" cx="297.9" cy="686.8" r="1.25"/><circle class="g" cx="296.1" cy="686.7" r="1.25"/><circle class="g" cx="295.0" cy="688.1" r="1.25"/><circle class="g" cx="297.0" cy="685.1" r="1.25"/><circle class="g" cx="290.9" cy="698.1" r="1.25"/><circle class="g" cx="300.3" cy="687.2" r="1.25"/></g>
<g id="rpg"><circle class="g" cx="1192.5" cy="713.5" r="1.22"/><circle class="g" cx="1193.7" cy="719.2" r="1.22"/><circle class="g" cx="1232.3" cy="717.7" r="1.22"/><circle class="g" cx="1176.7" cy="425.3" r="1.22"/><circle class="g" cx="1098.0" cy="484.9" r="1.22"/><circle class="g" cx="1094.5" cy="542.4" r="1.22"/><circle class="g" cx="1097.6" cy="546.2" r="1.22"/><circle class="g" cx="1108.4" cy="550.0" r="1.22"/><circle class="g" cx="1090.2" cy="557.7" r="1.22"/><circle class="g" cx="1099.6" cy="560.7" r="1.22"/><circle class="g" cx="1162.6" cy="566.8" r="1.22"/><circle class="g" cx="1169.8" cy="567.6" r="1.22"/><circle class="g" cx="1098.6" cy="576.1" r="1.22"/><circle class="g" cx="1107.0" cy="576.4" r="1.22"/><circle class="g" cx="1164.8" cy="576.5" r="1.22"/><circle class="g" cx="1170.5" cy="584.9" r="1.22"/><circle class="g" cx="1168.3" cy="588.6" r="1.22"/><circle class="g" cx="1172.4" cy="589.7" r="1.22"/><circle class="g" cx="1109.6" cy="588.3" r="1.22"/><circle class="g" cx="1105.7" cy="589.7" r="1.22"/><circle class="g" cx="1105.2" cy="593.0" r="1.22"/><circle class="g" cx="1101.5" cy="594.9" r="1.22"/><circle class="g" cx="1111.1" cy="596.0" r="1.22"/><circle class="g" cx="1099.3" cy="598.5" r="1.22"/><circle class="g" cx="1098.8" cy="604.4" r="1.22"/><circle class="g" cx="1098.2" cy="611.0" r="1.22"/><circle class="g" cx="1103.5" cy="610.6" r="1.22"/><circle class="g" cx="1167.3" cy="610.9" r="1.22"/><circle class="g" cx="1152.9" cy="614.2" r="1.22"/><circle class="g" cx="1096.0" cy="616.9" r="1.22"/><circle class="g" cx="1104.5" cy="616.4" r="1.22"/><circle class="g" cx="1105.2" cy="619.4" r="1.22"/><circle class="g" cx="1106.4" cy="622.6" r="1.22"/><circle class="g" cx="1151.3" cy="629.3" r="1.22"/><circle class="g" cx="1155.4" cy="632.3" r="1.22"/><circle class="g" cx="1169.5" cy="630.1" r="1.22"/><circle class="g" cx="1106.7" cy="638.2" r="1.22"/><circle class="g" cx="1114.9" cy="642.1" r="1.22"/><circle class="g" cx="1120.2" cy="643.6" r="1.22"/><circle class="g" cx="1113.3" cy="642.8" r="1.22"/><circle class="g" cx="1104.0" cy="642.8" r="1.22"/><circle class="g" cx="1101.5" cy="647.2" r="1.22"/><circle class="g" cx="1106.4" cy="648.7" r="1.22"/><circle class="g" cx="1111.1" cy="647.5" r="1.22"/><circle class="g" cx="1160.2" cy="642.4" r="1.22"/><circle class="g" cx="1161.4" cy="642.4" r="1.22"/><circle class="g" cx="1152.9" cy="649.7" r="1.22"/><circle class="g" cx="1180.8" cy="649.2" r="1.22"/><circle class="g" cx="1091.7" cy="651.6" r="1.22"/><circle class="g" cx="1155.8" cy="655.0" r="1.22"/><circle class="g" cx="1164.9" cy="655.0" r="1.22"/><circle class="g" cx="1112.3" cy="656.9" r="1.22"/><circle class="g" cx="1097.1" cy="659.7" r="1.22"/><circle class="g" cx="1098.5" cy="659.0" r="1.22"/><circle class="g" cx="1099.8" cy="658.4" r="1.22"/><circle class="g" cx="1154.7" cy="660.0" r="1.22"/><circle class="g" cx="1180.8" cy="660.9" r="1.22"/><circle class="g" cx="1104.0" cy="663.7" r="1.22"/><circle class="g" cx="1123.1" cy="664.3" r="1.22"/><circle class="g" cx="1159.5" cy="663.4" r="1.22"/><circle class="g" cx="1108.9" cy="665.6" r="1.22"/><circle class="g" cx="1114.0" cy="665.6" r="1.22"/><circle class="g" cx="1094.2" cy="676.4" r="1.22"/><circle class="g" cx="1094.5" cy="676.1" r="1.22"/><circle class="g" cx="1094.0" cy="676.8" r="1.22"/><circle class="g" cx="1112.2" cy="656.7" r="1.22"/><circle class="g" cx="1104.3" cy="663.5" r="1.22"/><circle class="g" cx="1107.7" cy="666.9" r="1.22"/><circle class="g" cx="1113.9" cy="666.9" r="1.22"/><circle class="g" cx="1123.0" cy="664.6" r="1.22"/><circle class="g" cx="1099.8" cy="670.2" r="1.22"/><circle class="g" cx="1104.3" cy="670.8" r="1.22"/><circle class="g" cx="1116.7" cy="673.6" r="1.22"/><circle class="g" cx="1112.8" cy="678.1" r="1.22"/><circle class="g" cx="1113.0" cy="677.8" r="1.22"/><circle class="g" cx="1101.5" cy="680.7" r="1.22"/><circle class="g" cx="1120.7" cy="679.8" r="1.22"/><circle class="g" cx="1125.8" cy="682.7" r="1.22"/><circle class="g" cx="1115.1" cy="684.6" r="1.22"/><circle class="g" cx="1098.7" cy="687.2" r="1.22"/><circle class="g" cx="1125.8" cy="691.7" r="1.22"/><circle class="g" cx="1126.0" cy="691.4" r="1.22"/><circle class="g" cx="1123.5" cy="695.1" r="1.22"/><circle class="g" cx="1108.3" cy="693.9" r="1.22"/><circle class="g" cx="1114.5" cy="697.9" r="1.22"/><circle class="g" cx="1093.0" cy="699.6" r="1.22"/><circle class="g" cx="1111.1" cy="700.1" r="1.22"/><circle class="g" cx="1119.0" cy="699.6" r="1.22"/><circle class="g" cx="1125.8" cy="697.9" r="1.22"/><circle class="g" cx="1127.5" cy="703.5" r="1.22"/><circle class="g" cx="1128.0" cy="706.4" r="1.22"/><circle class="g" cx="1155.1" cy="655.6" r="1.22"/><circle class="g" cx="1164.7" cy="655.6" r="1.22"/><circle class="g" cx="1155.1" cy="660.1" r="1.22"/><circle class="g" cx="1160.2" cy="662.9" r="1.22"/><circle class="g" cx="1156.8" cy="666.3" r="1.22"/><circle class="g" cx="1159.6" cy="668.5" r="1.22"/><circle class="g" cx="1180.5" cy="660.6" r="1.22"/><circle class="g" cx="1172.1" cy="666.9" r="1.22"/><circle class="g" cx="1168.7" cy="671.4" r="1.22"/><circle class="g" cx="1148.9" cy="673.6" r="1.22"/><circle class="g" cx="1156.3" cy="672.5" r="1.22"/><circle class="g" cx="1153.4" cy="678.7" r="1.22"/><circle class="g" cx="1153.6" cy="678.4" r="1.22"/><circle class="g" cx="1180.0" cy="677.0" r="1.22"/><circle class="g" cx="1147.2" cy="682.1" r="1.22"/><circle class="g" cx="1163.0" cy="682.1" r="1.22"/><circle class="g" cx="1154.0" cy="685.5" r="1.22"/><circle class="g" cx="1146.1" cy="688.3" r="1.22"/><circle class="g" cx="1152.9" cy="688.9" r="1.22"/><circle class="g" cx="1168.1" cy="688.0" r="1.22"/><circle class="g" cx="1180.5" cy="688.0" r="1.22"/><circle class="g" cx="1146.7" cy="691.7" r="1.22"/><circle class="g" cx="1154.0" cy="692.2" r="1.22"/><circle class="g" cx="1165.8" cy="691.7" r="1.22"/><circle class="g" cx="1172.1" cy="692.8" r="1.22"/><circle class="g" cx="1143.8" cy="695.6" r="1.22"/><circle class="g" cx="1150.0" cy="696.2" r="1.22"/><circle class="g" cx="1162.5" cy="695.1" r="1.22"/><circle class="g" cx="1160.8" cy="698.5" r="1.22"/><circle class="g" cx="1161.0" cy="698.2" r="1.22"/><circle class="g" cx="1170.9" cy="697.9" r="1.22"/><circle class="g" cx="1146.7" cy="699.6" r="1.22"/><circle class="g" cx="1156.3" cy="704.1" r="1.22"/><circle class="g" cx="1176.0" cy="704.1" r="1.22"/><circle class="g" cx="1172.1" cy="707.5" r="1.22"/><circle class="g" cx="1103.8" cy="709.7" r="1.22"/><circle class="g" cx="1106.6" cy="713.1" r="1.22"/><circle class="g" cx="1109.4" cy="706.9" r="1.22"/><circle class="g" cx="1114.5" cy="710.3" r="1.22"/><circle class="g" cx="1119.0" cy="709.2" r="1.22"/><circle class="g" cx="1119.2" cy="709.0" r="1.22"/><circle class="g" cx="1119.0" cy="715.9" r="1.22"/><circle class="g" cx="1123.5" cy="711.4" r="1.22"/><circle class="g" cx="1092.5" cy="722.5" r="1.22"/><circle class="g" cx="1141.6" cy="707.5" r="1.22"/><circle class="g" cx="1147.2" cy="708.0" r="1.22"/><circle class="g" cx="1154.0" cy="706.9" r="1.22"/><circle class="g" cx="1157.9" cy="710.3" r="1.22"/><circle class="g" cx="1163.6" cy="710.1" r="1.22"/><circle class="g" cx="1151.7" cy="713.7" r="1.22"/><circle class="g" cx="1156.3" cy="718.2" r="1.22"/><circle class="g" cx="1154.0" cy="721.0" r="1.22"/><circle class="g" cx="1147.2" cy="722.7" r="1.22"/><circle class="g" cx="1170.7" cy="720.1" r="1.22"/><circle class="g" cx="1118.6" cy="700.6" r="1.22"/><circle class="g" cx="1126.2" cy="694.1" r="1.22"/><circle class="g" cx="1116.6" cy="687.6" r="1.22"/><circle class="g" cx="1119.6" cy="688.0" r="1.22"/><circle class="g" cx="1119.8" cy="696.0" r="1.22"/><circle class="g" cx="1128.8" cy="681.4" r="1.22"/><circle class="g" cx="1122.2" cy="681.0" r="1.22"/><circle class="g" cx="1114.1" cy="700.3" r="1.22"/><circle class="g" cx="1122.4" cy="703.0" r="1.22"/><circle class="g" cx="1120.0" cy="680.4" r="1.22"/><circle class="g" cx="1119.0" cy="694.8" r="1.22"/><circle class="g" cx="1128.9" cy="704.5" r="1.22"/><circle class="g" cx="1120.6" cy="690.3" r="1.22"/><circle class="g" cx="1113.8" cy="696.1" r="1.22"/><circle class="g" cx="1115.8" cy="683.8" r="1.22"/><circle class="g" cx="1112.3" cy="680.1" r="1.22"/><circle class="g" cx="1124.3" cy="683.0" r="1.22"/><circle class="g" cx="1129.4" cy="682.2" r="1.22"/><circle class="g" cx="1157.7" cy="679.3" r="1.22"/><circle class="g" cx="1142.3" cy="698.7" r="1.22"/><circle class="g" cx="1146.4" cy="699.2" r="1.22"/><circle class="g" cx="1145.4" cy="676.7" r="1.22"/><circle class="g" cx="1155.9" cy="698.5" r="1.22"/><circle class="g" cx="1157.4" cy="699.1" r="1.22"/><circle class="g" cx="1143.5" cy="695.7" r="1.22"/><circle class="g" cx="1154.8" cy="690.2" r="1.22"/><circle class="g" cx="1158.8" cy="683.4" r="1.22"/><circle class="g" cx="1159.4" cy="698.7" r="1.22"/><circle class="g" cx="1142.2" cy="675.5" r="1.22"/><circle class="g" cx="1153.7" cy="702.0" r="1.22"/><circle class="g" cx="1143.4" cy="685.3" r="1.22"/><circle class="g" cx="1155.1" cy="680.5" r="1.22"/><circle class="g" cx="1157.5" cy="691.0" r="1.22"/><circle class="g" cx="1143.1" cy="687.1" r="1.22"/><circle class="g" cx="1152.3" cy="689.5" r="1.22"/><circle class="g" cx="1154.2" cy="679.8" r="1.22"/><circle class="g" cx="1156.4" cy="687.0" r="1.22"/><circle class="g" cx="1153.6" cy="695.8" r="1.22"/><circle class="g" cx="1121.9" cy="711.4" r="1.22"/><circle class="g" cx="1127.0" cy="719.2" r="1.22"/><circle class="g" cx="1127.0" cy="713.9" r="1.22"/><circle class="g" cx="1120.1" cy="706.8" r="1.22"/><circle class="g" cx="1129.6" cy="715.8" r="1.22"/><circle class="g" cx="1127.6" cy="710.6" r="1.22"/><circle class="g" cx="1124.5" cy="719.7" r="1.22"/><circle class="g" cx="1127.6" cy="714.4" r="1.22"/><circle class="g" cx="1120.3" cy="712.0" r="1.22"/><circle class="g" cx="1128.4" cy="711.3" r="1.22"/><circle class="g" cx="1125.6" cy="714.4" r="1.22"/><circle class="g" cx="1128.5" cy="717.3" r="1.22"/><circle class="g" cx="1120.0" cy="706.0" r="1.22"/><circle class="g" cx="1119.7" cy="711.9" r="1.22"/><circle class="g" cx="1151.4" cy="719.2" r="1.22"/><circle class="g" cx="1156.2" cy="707.6" r="1.22"/><circle class="g" cx="1155.3" cy="719.2" r="1.22"/><circle class="g" cx="1155.9" cy="715.6" r="1.22"/><circle class="g" cx="1146.4" cy="719.8" r="1.22"/><circle class="g" cx="1154.9" cy="717.3" r="1.22"/><circle class="g" cx="1156.6" cy="712.2" r="1.22"/><circle class="g" cx="1143.4" cy="715.3" r="1.22"/><circle class="g" cx="1154.8" cy="710.0" r="1.22"/><circle class="g" cx="1154.0" cy="721.0" r="1.22"/><circle class="g" cx="1145.7" cy="716.1" r="1.22"/><circle class="g" cx="1152.8" cy="714.0" r="1.22"/><circle class="g" cx="1145.3" cy="710.8" r="1.22"/><circle class="g" cx="1154.0" cy="718.9" r="1.22"/><circle class="g" cx="1149.4" cy="708.3" r="1.22"/><circle class="g" cx="1154.9" cy="718.6" r="1.22"/><circle class="g" cx="1145.7" cy="715.7" r="1.22"/><circle class="g" cx="1156.4" cy="720.3" r="1.22"/><circle class="g" cx="1150.3" cy="714.1" r="1.22"/><circle class="g" cx="1151.4" cy="709.8" r="1.22"/><circle class="g" cx="1145.1" cy="709.7" r="1.22"/><circle class="g" cx="1153.2" cy="712.4" r="1.22"/><circle class="g" cx="1133.5" cy="724.0" r="1.22"/><circle class="g" cx="1126.0" cy="716.9" r="1.22"/><circle class="g" cx="1130.3" cy="718.8" r="1.22"/><circle class="g" cx="1133.4" cy="724.9" r="1.22"/><circle class="g" cx="1129.6" cy="722.2" r="1.22"/><circle class="g" cx="1132.6" cy="723.6" r="1.22"/><circle class="g" cx="1130.1" cy="721.0" r="1.22"/><circle class="g" cx="1135.9" cy="724.9" r="1.22"/><circle class="g" cx="1136.4" cy="722.4" r="1.22"/><circle class="g" cx="1123.9" cy="712.0" r="1.22"/><circle class="g" cx="1125.3" cy="711.0" r="1.22"/><circle class="g" cx="1134.8" cy="723.9" r="1.22"/><circle class="g" cx="1130.7" cy="721.7" r="1.22"/><circle class="g" cx="1124.4" cy="713.1" r="1.22"/><circle class="g" cx="1129.7" cy="714.8" r="1.22"/><circle class="g" cx="1126.6" cy="715.5" r="1.22"/><circle class="g" cx="1136.6" cy="723.1" r="1.22"/><circle class="g" cx="1130.5" cy="721.6" r="1.22"/><circle class="g" cx="1123.1" cy="713.2" r="1.22"/><circle class="g" cx="1128.2" cy="719.7" r="1.22"/><circle class="g" cx="1122.7" cy="709.9" r="1.22"/><circle class="g" cx="1135.7" cy="723.8" r="1.22"/><circle class="g" cx="1126.5" cy="716.9" r="1.22"/><circle class="g" cx="1130.6" cy="720.7" r="1.22"/><circle class="g" cx="1124.9" cy="712.8" r="1.22"/><circle class="g" cx="1123.1" cy="709.9" r="1.22"/><circle class="g" cx="1118.3" cy="711.0" r="1.22"/><circle class="g" cx="1135.8" cy="725.9" r="1.22"/><circle class="g" cx="1139.5" cy="718.1" r="1.22"/><circle class="g" cx="1148.8" cy="712.6" r="1.22"/><circle class="g" cx="1145.4" cy="719.0" r="1.22"/><circle class="g" cx="1136.9" cy="726.0" r="1.22"/><circle class="g" cx="1146.1" cy="712.7" r="1.22"/><circle class="g" cx="1138.8" cy="723.7" r="1.22"/><circle class="g" cx="1143.8" cy="719.7" r="1.22"/><circle class="g" cx="1146.9" cy="714.7" r="1.22"/><circle class="g" cx="1148.5" cy="714.9" r="1.22"/><circle class="g" cx="1141.9" cy="717.4" r="1.22"/><circle class="g" cx="1133.9" cy="728.3" r="1.22"/><circle class="g" cx="1138.1" cy="722.8" r="1.22"/><circle class="g" cx="1146.9" cy="715.1" r="1.22"/><circle class="g" cx="1138.1" cy="724.8" r="1.22"/><circle class="g" cx="1149.5" cy="708.6" r="1.22"/><circle class="g" cx="1146.6" cy="711.3" r="1.22"/><circle class="g" cx="1151.3" cy="710.1" r="1.22"/><circle class="g" cx="1152.0" cy="705.8" r="1.22"/><circle class="g" cx="1149.2" cy="712.6" r="1.22"/><circle class="g" cx="1142.9" cy="713.6" r="1.22"/><circle class="g" cx="1147.6" cy="711.5" r="1.22"/><circle class="g" cx="1151.9" cy="709.6" r="1.22"/><circle class="g" cx="1138.6" cy="725.6" r="1.22"/><circle class="g" cx="1137.2" cy="718.6" r="1.22"/><circle class="g" cx="1145.1" cy="713.0" r="1.22"/><circle class="g" cx="1136.3" cy="725.1" r="1.22"/><circle class="g" cx="1140.8" cy="722.4" r="1.22"/><circle class="g" cx="1148.5" cy="712.1" r="1.22"/><circle class="g" cx="1138.9" cy="720.6" r="1.22"/><circle class="g" cx="1150.8" cy="707.6" r="1.22"/><circle class="g" cx="1151.5" cy="710.0" r="1.22"/><circle class="g" cx="1143.4" cy="720.3" r="1.22"/><circle class="g" cx="1146.3" cy="712.2" r="1.22"/><circle class="g" cx="1148.2" cy="712.8" r="1.22"/></g>
</g>
<g id="lpv"><circle class="v" cx="276.3" cy="692.8" r="1.25"/><circle class="v" cx="286.4" cy="700.5" r="1.25"/><circle class="v" cx="282.2" cy="697.6" r="1.25"/><circle class="v" cx="279.2" cy="694.3" r="1.25"/><circle class="v" cx="284.8" cy="698.5" r="1.25"/><circle class="v" cx="284.7" cy="700.5" r="1.25"/><circle class="v" cx="286.6" cy="701.9" r="1.25"/><circle class="v" cx="283.8" cy="698.0" r="1.25"/><circle class="v" cx="285.5" cy="698.5" r="1.25"/><circle class="v" cx="289.5" cy="701.2" r="1.25"/><circle class="v" cx="284.6" cy="701.6" r="1.25"/><circle class="v" cx="277.9" cy="693.8" r="1.25"/><circle class="v" cx="285.5" cy="699.6" r="1.25"/><circle class="v" cx="284.7" cy="698.4" r="1.25"/><circle class="v" cx="287.7" cy="702.1" r="1.25"/><circle class="v" cx="286.7" cy="700.0" r="1.25"/><circle class="v" cx="285.2" cy="699.2" r="1.25"/><circle class="v" cx="284.5" cy="700.2" r="1.25"/><circle class="v" cx="279.1" cy="693.8" r="1.25"/><circle class="v" cx="276.4" cy="692.6" r="1.25"/><circle class="v" cx="286.7" cy="700.9" r="1.25"/><circle class="v" cx="279.2" cy="695.1" r="1.25"/><circle class="v" cx="286.5" cy="701.3" r="1.25"/><circle class="v" cx="283.3" cy="697.7" r="1.25"/><circle class="v" cx="281.5" cy="696.1" r="1.25"/><circle class="v" cx="281.5" cy="696.1" r="1.25"/><circle class="v" cx="285.8" cy="698.8" r="1.25"/><circle class="v" cx="286.7" cy="700.7" r="1.25"/><circle class="v" cx="285.2" cy="701.9" r="1.25"/><circle class="v" cx="281.7" cy="698.5" r="1.25"/><circle class="v" cx="287.6" cy="700.6" r="1.25"/><circle class="v" cx="286.2" cy="699.8" r="1.25"/><circle class="v" cx="280.4" cy="694.1" r="1.25"/><circle class="v" cx="283.0" cy="697.8" r="1.25"/><circle class="v" cx="284.8" cy="699.6" r="1.25"/><circle class="v" cx="278.3" cy="693.9" r="1.25"/><circle class="v" cx="282.9" cy="696.9" r="1.25"/><circle class="v" cx="284.9" cy="699.6" r="1.25"/><circle class="v" cx="285.0" cy="699.5" r="1.25"/><circle class="v" cx="278.4" cy="694.5" r="1.25"/><circle class="v" cx="281.0" cy="696.5" r="1.25"/><circle class="v" cx="281.6" cy="697.7" r="1.25"/><circle class="v" cx="278.4" cy="694.4" r="1.25"/><circle class="v" cx="275.8" cy="693.3" r="1.25"/><circle class="v" cx="287.1" cy="699.4" r="1.25"/><circle class="v" cx="278.0" cy="693.4" r="1.25"/><circle class="v" cx="278.7" cy="694.5" r="1.25"/><circle class="v" cx="287.7" cy="701.2" r="1.25"/><circle class="v" cx="277.7" cy="693.5" r="1.25"/><circle class="v" cx="286.0" cy="700.6" r="1.25"/><circle class="v" cx="282.7" cy="696.2" r="1.25"/><circle class="v" cx="283.3" cy="696.9" r="1.25"/><circle class="v" cx="285.4" cy="699.9" r="1.25"/><circle class="v" cx="285.2" cy="697.7" r="1.25"/><circle class="v" cx="282.4" cy="697.0" r="1.25"/><circle class="v" cx="285.0" cy="699.9" r="1.25"/><circle class="v" cx="284.0" cy="695.9" r="1.25"/><circle class="v" cx="283.5" cy="697.4" r="1.25"/><circle class="v" cx="284.6" cy="698.9" r="1.25"/><circle class="v" cx="283.7" cy="700.5" r="1.25"/><circle class="v" cx="284.3" cy="698.2" r="1.25"/><circle class="v" cx="279.3" cy="695.0" r="1.25"/><circle class="v" cx="284.8" cy="700.7" r="1.25"/><circle class="v" cx="279.5" cy="694.9" r="1.25"/><circle class="v" cx="281.2" cy="694.9" r="1.25"/><circle class="v" cx="286.1" cy="698.0" r="1.25"/><circle class="v" cx="284.9" cy="697.6" r="1.25"/><circle class="v" cx="284.2" cy="700.1" r="1.25"/><circle class="v" cx="278.3" cy="693.4" r="1.25"/><circle class="v" cx="287.5" cy="699.8" r="1.25"/><circle class="v" cx="280.5" cy="693.9" r="1.25"/><circle class="v" cx="274.4" cy="693.5" r="1.25"/><circle class="v" cx="278.9" cy="693.6" r="1.25"/><circle class="v" cx="281.2" cy="695.8" r="1.25"/><circle class="v" cx="285.8" cy="699.2" r="1.25"/><circle class="v" cx="285.5" cy="698.5" r="1.25"/><circle class="v" cx="289.1" cy="701.1" r="1.25"/><circle class="v" cx="284.6" cy="699.5" r="1.25"/><circle class="v" cx="282.1" cy="699.1" r="1.25"/><circle class="v" cx="285.0" cy="699.2" r="1.25"/><circle class="v" cx="290.2" cy="698.3" r="1.25"/><circle class="v" cx="290.9" cy="698.1" r="1.25"/><circle class="v" cx="285.8" cy="701.3" r="1.25"/><circle class="v" cx="297.5" cy="691.5" r="1.25"/><circle class="v" cx="299.1" cy="691.5" r="1.25"/><circle class="v" cx="298.7" cy="690.6" r="1.25"/><circle class="v" cx="294.1" cy="693.9" r="1.25"/><circle class="v" cx="288.4" cy="701.2" r="1.25"/><circle class="v" cx="291.1" cy="695.3" r="1.25"/><circle class="v" cx="289.2" cy="697.7" r="1.25"/><circle class="v" cx="298.3" cy="690.7" r="1.25"/><circle class="v" cx="291.9" cy="695.8" r="1.25"/><circle class="v" cx="288.9" cy="700.3" r="1.25"/><circle class="v" cx="294.3" cy="693.0" r="1.25"/><circle class="v" cx="288.6" cy="698.3" r="1.25"/><circle class="v" cx="296.6" cy="693.7" r="1.25"/><circle class="v" cx="295.6" cy="693.7" r="1.25"/><circle class="v" cx="288.1" cy="700.4" r="1.25"/><circle class="v" cx="297.9" cy="692.4" r="1.25"/><circle class="v" cx="287.2" cy="699.4" r="1.25"/><circle class="v" cx="292.4" cy="696.5" r="1.25"/><circle class="v" cx="288.0" cy="698.6" r="1.25"/><circle class="v" cx="295.1" cy="694.6" r="1.25"/><circle class="v" cx="291.8" cy="695.8" r="1.25"/><circle class="v" cx="291.5" cy="698.3" r="1.25"/><circle class="v" cx="294.6" cy="694.1" r="1.25"/><circle class="v" cx="290.3" cy="700.2" r="1.25"/><circle class="v" cx="295.1" cy="695.5" r="1.25"/><circle class="v" cx="299.5" cy="690.1" r="1.25"/><circle class="v" cx="295.9" cy="691.7" r="1.25"/><circle class="v" cx="285.1" cy="699.3" r="1.25"/><circle class="v" cx="296.7" cy="692.8" r="1.25"/><circle class="v" cx="289.7" cy="699.2" r="1.25"/><circle class="v" cx="298.7" cy="689.4" r="1.25"/><circle class="v" cx="289.3" cy="698.6" r="1.25"/><circle class="v" cx="288.6" cy="699.5" r="1.25"/><circle class="v" cx="285.3" cy="699.7" r="1.25"/><circle class="v" cx="288.2" cy="699.3" r="1.25"/><circle class="v" cx="289.5" cy="699.7" r="1.25"/><circle class="v" cx="295.6" cy="695.0" r="1.25"/><circle class="v" cx="290.4" cy="698.4" r="1.25"/><circle class="v" cx="289.4" cy="699.1" r="1.25"/><circle class="v" cx="294.7" cy="696.5" r="1.25"/><circle class="v" cx="291.2" cy="696.9" r="1.25"/><circle class="v" cx="287.5" cy="701.2" r="1.25"/><circle class="v" cx="292.7" cy="697.6" r="1.25"/><circle class="v" cx="298.9" cy="690.8" r="1.25"/><circle class="v" cx="292.0" cy="697.0" r="1.25"/><circle class="v" cx="299.7" cy="690.2" r="1.25"/><circle class="v" cx="295.5" cy="694.0" r="1.25"/><circle class="v" cx="297.3" cy="690.6" r="1.25"/><circle class="v" cx="292.1" cy="698.3" r="1.25"/><circle class="v" cx="287.7" cy="701.0" r="1.25"/><circle class="v" cx="293.9" cy="695.3" r="1.25"/><circle class="v" cx="293.3" cy="694.7" r="1.25"/><circle class="v" cx="289.5" cy="700.1" r="1.25"/><circle class="v" cx="298.9" cy="692.1" r="1.25"/><circle class="v" cx="296.8" cy="693.5" r="1.25"/><circle class="v" cx="288.2" cy="702.2" r="1.25"/><circle class="v" cx="290.8" cy="698.4" r="1.25"/><circle class="v" cx="291.8" cy="698.8" r="1.25"/><circle class="v" cx="295.2" cy="693.5" r="1.25"/><circle class="v" cx="291.0" cy="698.4" r="1.25"/><circle class="v" cx="297.5" cy="692.9" r="1.25"/><circle class="v" cx="291.8" cy="697.1" r="1.25"/><circle class="v" cx="288.2" cy="700.4" r="1.25"/><circle class="v" cx="299.0" cy="692.8" r="1.25"/><circle class="v" cx="295.7" cy="695.0" r="1.25"/><circle class="v" cx="288.8" cy="699.7" r="1.25"/><circle class="v" cx="292.8" cy="695.0" r="1.25"/><circle class="v" cx="294.3" cy="694.8" r="1.25"/><circle class="v" cx="292.3" cy="697.1" r="1.25"/><circle class="v" cx="293.6" cy="694.8" r="1.25"/><circle class="v" cx="295.4" cy="693.7" r="1.25"/><circle class="v" cx="287.5" cy="699.6" r="1.25"/><circle class="v" cx="288.4" cy="700.1" r="1.25"/><circle class="v" cx="291.7" cy="697.1" r="1.25"/><circle class="v" cx="293.7" cy="696.1" r="1.25"/><circle class="v" cx="296.5" cy="693.1" r="1.25"/><circle class="v" cx="292.1" cy="695.4" r="1.25"/><circle class="v" cx="290.5" cy="701.8" r="1.25"/><circle class="v" cx="291.8" cy="694.1" r="1.25"/><circle class="v" cx="297.5" cy="688.9" r="1.25"/><circle class="v" cx="297.5" cy="692.3" r="1.25"/><circle class="v" cx="299.4" cy="692.0" r="1.25"/><circle class="v" cx="288.1" cy="700.2" r="1.25"/><circle class="v" cx="286.6" cy="700.8" r="1.25"/><circle class="v" cx="286.8" cy="700.4" r="1.25"/><circle class="v" cx="286.7" cy="698.2" r="1.25"/><circle class="v" cx="287.5" cy="700.4" r="1.25"/><circle class="v" cx="288.6" cy="699.4" r="1.25"/><circle class="v" cx="287.5" cy="700.8" r="1.25"/><circle class="v" cx="287.7" cy="701.3" r="1.25"/><circle class="v" cx="290.5" cy="699.4" r="1.25"/><circle class="v" cx="284.6" cy="701.0" r="1.25"/><circle class="v" cx="289.8" cy="701.0" r="1.25"/><circle class="v" cx="288.7" cy="699.6" r="1.25"/><circle class="v" cx="286.4" cy="701.0" r="1.25"/><circle class="v" cx="286.1" cy="698.6" r="1.25"/><circle class="v" cx="286.0" cy="702.4" r="1.25"/><circle class="v" cx="290.4" cy="699.6" r="1.25"/><circle class="v" cx="286.4" cy="700.4" r="1.25"/><circle class="v" cx="286.4" cy="701.4" r="1.25"/><circle class="v" cx="287.4" cy="699.2" r="1.25"/><circle class="v" cx="289.5" cy="699.7" r="1.25"/><circle class="v" cx="287.8" cy="700.2" r="1.25"/><circle class="v" cx="287.0" cy="700.5" r="1.25"/><circle class="v" cx="286.5" cy="698.5" r="1.25"/><circle class="v" cx="284.2" cy="699.1" r="1.25"/><circle class="v" cx="286.4" cy="700.2" r="1.25"/><circle class="v" cx="287.6" cy="700.7" r="1.25"/><circle class="v" cx="287.7" cy="699.5" r="1.25"/><circle class="v" cx="286.4" cy="698.3" r="1.25"/><circle class="v" cx="287.2" cy="700.6" r="1.25"/><circle class="v" cx="288.3" cy="700.1" r="1.25"/></g>
<g id="rpv"><circle class="v" cx="1131.9" cy="721.0" r="1.05"/><circle class="v" cx="1135.6" cy="728.2" r="1.05"/><circle class="v" cx="1134.6" cy="724.9" r="1.05"/><circle class="v" cx="1130.8" cy="717.1" r="1.05"/><circle class="v" cx="1134.9" cy="724.7" r="1.05"/><circle class="v" cx="1135.4" cy="728.2" r="1.05"/><circle class="v" cx="1133.0" cy="722.4" r="1.05"/><circle class="v" cx="1130.0" cy="716.1" r="1.05"/><circle class="v" cx="1131.1" cy="717.7" r="1.05"/><circle class="v" cx="1133.0" cy="726.1" r="1.05"/><circle class="v" cx="1135.1" cy="726.6" r="1.05"/><circle class="v" cx="1132.6" cy="721.8" r="1.05"/><circle class="v" cx="1127.6" cy="713.0" r="1.05"/><circle class="v" cx="1132.0" cy="720.6" r="1.05"/><circle class="v" cx="1128.3" cy="712.6" r="1.05"/><circle class="v" cx="1132.6" cy="720.5" r="1.05"/><circle class="v" cx="1133.5" cy="723.9" r="1.05"/><circle class="v" cx="1128.1" cy="712.7" r="1.05"/><circle class="v" cx="1135.3" cy="727.3" r="1.05"/><circle class="v" cx="1129.4" cy="714.7" r="1.05"/><circle class="v" cx="1134.6" cy="727.5" r="1.05"/><circle class="v" cx="1130.6" cy="720.0" r="1.05"/><circle class="v" cx="1135.1" cy="726.8" r="1.05"/><circle class="v" cx="1129.7" cy="719.0" r="1.05"/><circle class="v" cx="1131.4" cy="717.8" r="1.05"/><circle class="v" cx="1135.0" cy="726.2" r="1.05"/><circle class="v" cx="1135.6" cy="726.6" r="1.05"/><circle class="v" cx="1131.7" cy="719.9" r="1.05"/><circle class="v" cx="1135.0" cy="727.3" r="1.05"/><circle class="v" cx="1135.2" cy="727.0" r="1.05"/><circle class="v" cx="1128.4" cy="714.7" r="1.05"/><circle class="v" cx="1135.8" cy="727.8" r="1.05"/><circle class="v" cx="1131.2" cy="719.8" r="1.05"/><circle class="v" cx="1129.9" cy="715.4" r="1.05"/><circle class="v" cx="1135.2" cy="726.8" r="1.05"/><circle class="v" cx="1131.2" cy="718.2" r="1.05"/><circle class="v" cx="1129.0" cy="714.8" r="1.05"/><circle class="v" cx="1135.8" cy="726.6" r="1.05"/><circle class="v" cx="1135.5" cy="725.2" r="1.05"/><circle class="v" cx="1135.0" cy="725.3" r="1.05"/><circle class="v" cx="1127.6" cy="712.9" r="1.05"/><circle class="v" cx="1131.9" cy="719.5" r="1.05"/><circle class="v" cx="1135.2" cy="725.5" r="1.05"/><circle class="v" cx="1134.4" cy="726.0" r="1.05"/><circle class="v" cx="1128.3" cy="713.8" r="1.05"/><circle class="v" cx="1129.2" cy="714.8" r="1.05"/><circle class="v" cx="1134.8" cy="725.5" r="1.05"/><circle class="v" cx="1129.9" cy="716.2" r="1.05"/><circle class="v" cx="1135.7" cy="727.7" r="1.05"/><circle class="v" cx="1134.2" cy="725.6" r="1.05"/><circle class="v" cx="1135.4" cy="726.0" r="1.05"/><circle class="v" cx="1134.8" cy="726.6" r="1.05"/><circle class="v" cx="1133.8" cy="726.6" r="1.05"/><circle class="v" cx="1132.1" cy="720.2" r="1.05"/><circle class="v" cx="1134.9" cy="725.8" r="1.05"/><circle class="v" cx="1129.1" cy="716.0" r="1.05"/><circle class="v" cx="1135.1" cy="727.2" r="1.05"/><circle class="v" cx="1130.2" cy="719.0" r="1.05"/><circle class="v" cx="1134.6" cy="725.4" r="1.05"/><circle class="v" cx="1131.9" cy="723.5" r="1.05"/><circle class="v" cx="1133.3" cy="723.1" r="1.05"/><circle class="v" cx="1134.6" cy="726.7" r="1.05"/><circle class="v" cx="1134.5" cy="726.3" r="1.05"/><circle class="v" cx="1136.1" cy="726.9" r="1.05"/><circle class="v" cx="1132.7" cy="722.7" r="1.05"/><circle class="v" cx="1130.6" cy="716.4" r="1.05"/><circle class="v" cx="1130.5" cy="718.0" r="1.05"/><circle class="v" cx="1136.1" cy="728.0" r="1.05"/><circle class="v" cx="1131.8" cy="722.1" r="1.05"/><circle class="v" cx="1132.6" cy="723.0" r="1.05"/><circle class="v" cx="1135.0" cy="726.2" r="1.05"/><circle class="v" cx="1134.9" cy="725.9" r="1.05"/><circle class="v" cx="1135.1" cy="727.0" r="1.05"/><circle class="v" cx="1135.0" cy="726.9" r="1.05"/><circle class="v" cx="1132.2" cy="722.1" r="1.05"/><circle class="v" cx="1128.9" cy="714.8" r="1.05"/><circle class="v" cx="1135.0" cy="726.5" r="1.05"/><circle class="v" cx="1134.5" cy="725.9" r="1.05"/><circle class="v" cx="1135.6" cy="726.2" r="1.05"/><circle class="v" cx="1134.3" cy="726.2" r="1.05"/><circle class="v" cx="1135.2" cy="727.3" r="1.05"/><circle class="v" cx="1135.5" cy="724.1" r="1.05"/><circle class="v" cx="1138.8" cy="722.2" r="1.05"/><circle class="v" cx="1141.8" cy="718.8" r="1.05"/><circle class="v" cx="1137.1" cy="724.2" r="1.05"/><circle class="v" cx="1141.8" cy="719.2" r="1.05"/><circle class="v" cx="1140.8" cy="718.2" r="1.05"/><circle class="v" cx="1143.2" cy="715.7" r="1.05"/><circle class="v" cx="1137.0" cy="724.1" r="1.05"/><circle class="v" cx="1137.6" cy="723.4" r="1.05"/><circle class="v" cx="1138.3" cy="723.6" r="1.05"/><circle class="v" cx="1143.1" cy="715.3" r="1.05"/><circle class="v" cx="1137.4" cy="721.8" r="1.05"/><circle class="v" cx="1140.5" cy="717.6" r="1.05"/><circle class="v" cx="1136.5" cy="725.9" r="1.05"/><circle class="v" cx="1137.7" cy="723.4" r="1.05"/><circle class="v" cx="1135.7" cy="725.7" r="1.05"/><circle class="v" cx="1142.7" cy="715.5" r="1.05"/><circle class="v" cx="1139.9" cy="721.7" r="1.05"/><circle class="v" cx="1143.6" cy="715.1" r="1.05"/><circle class="v" cx="1137.6" cy="723.6" r="1.05"/><circle class="v" cx="1135.5" cy="727.3" r="1.05"/><circle class="v" cx="1137.6" cy="724.5" r="1.05"/><circle class="v" cx="1136.1" cy="726.4" r="1.05"/><circle class="v" cx="1138.5" cy="721.2" r="1.05"/><circle class="v" cx="1135.5" cy="726.4" r="1.05"/><circle class="v" cx="1137.5" cy="722.4" r="1.05"/><circle class="v" cx="1136.0" cy="725.6" r="1.05"/><circle class="v" cx="1138.5" cy="722.8" r="1.05"/><circle class="v" cx="1136.1" cy="726.9" r="1.05"/><circle class="v" cx="1137.3" cy="725.8" r="1.05"/><circle class="v" cx="1136.1" cy="726.3" r="1.05"/><circle class="v" cx="1140.6" cy="719.2" r="1.05"/><circle class="v" cx="1142.0" cy="717.0" r="1.05"/><circle class="v" cx="1137.1" cy="724.1" r="1.05"/><circle class="v" cx="1136.0" cy="727.3" r="1.05"/><circle class="v" cx="1142.1" cy="719.9" r="1.05"/><circle class="v" cx="1137.3" cy="724.9" r="1.05"/><circle class="v" cx="1140.6" cy="717.8" r="1.05"/><circle class="v" cx="1139.4" cy="719.7" r="1.05"/><circle class="v" cx="1136.4" cy="723.9" r="1.05"/><circle class="v" cx="1141.2" cy="716.9" r="1.05"/><circle class="v" cx="1136.5" cy="727.5" r="1.05"/><circle class="v" cx="1136.9" cy="724.0" r="1.05"/><circle class="v" cx="1137.0" cy="724.7" r="1.05"/><circle class="v" cx="1137.4" cy="721.5" r="1.05"/><circle class="v" cx="1138.1" cy="723.9" r="1.05"/><circle class="v" cx="1136.4" cy="724.4" r="1.05"/><circle class="v" cx="1136.3" cy="725.7" r="1.05"/><circle class="v" cx="1136.5" cy="723.2" r="1.05"/><circle class="v" cx="1136.6" cy="726.1" r="1.05"/><circle class="v" cx="1139.4" cy="723.1" r="1.05"/><circle class="v" cx="1137.5" cy="726.0" r="1.05"/><circle class="v" cx="1141.7" cy="715.5" r="1.05"/><circle class="v" cx="1143.1" cy="716.5" r="1.05"/><circle class="v" cx="1138.5" cy="721.5" r="1.05"/><circle class="v" cx="1140.7" cy="717.5" r="1.05"/><circle class="v" cx="1137.4" cy="722.5" r="1.05"/><circle class="v" cx="1136.9" cy="724.4" r="1.05"/><circle class="v" cx="1137.6" cy="725.9" r="1.05"/><circle class="v" cx="1137.7" cy="723.4" r="1.05"/><circle class="v" cx="1137.5" cy="724.1" r="1.05"/><circle class="v" cx="1141.5" cy="717.5" r="1.05"/><circle class="v" cx="1137.2" cy="723.1" r="1.05"/><circle class="v" cx="1135.0" cy="724.5" r="1.05"/><circle class="v" cx="1135.5" cy="726.2" r="1.05"/><circle class="v" cx="1143.1" cy="717.9" r="1.05"/><circle class="v" cx="1142.1" cy="716.4" r="1.05"/><circle class="v" cx="1142.1" cy="715.1" r="1.05"/><circle class="v" cx="1135.2" cy="726.7" r="1.05"/><circle class="v" cx="1138.8" cy="723.5" r="1.05"/><circle class="v" cx="1139.5" cy="721.2" r="1.05"/><circle class="v" cx="1143.0" cy="714.6" r="1.05"/><circle class="v" cx="1137.0" cy="724.6" r="1.05"/><circle class="v" cx="1139.1" cy="720.9" r="1.05"/><circle class="v" cx="1141.5" cy="717.2" r="1.05"/><circle class="v" cx="1135.3" cy="726.0" r="1.05"/><circle class="v" cx="1136.3" cy="725.7" r="1.05"/><circle class="v" cx="1142.7" cy="714.2" r="1.05"/><circle class="v" cx="1135.3" cy="727.5" r="1.05"/><circle class="v" cx="1136.8" cy="726.9" r="1.05"/><circle class="v" cx="1135.7" cy="727.1" r="1.05"/><circle class="v" cx="1136.5" cy="727.1" r="1.05"/><circle class="v" cx="1134.2" cy="726.7" r="1.05"/><circle class="v" cx="1135.1" cy="728.0" r="1.05"/><circle class="v" cx="1135.5" cy="726.0" r="1.05"/><circle class="v" cx="1136.8" cy="726.3" r="1.05"/><circle class="v" cx="1135.9" cy="726.6" r="1.05"/><circle class="v" cx="1135.9" cy="727.5" r="1.05"/><circle class="v" cx="1134.6" cy="726.1" r="1.05"/><circle class="v" cx="1136.3" cy="726.4" r="1.05"/><circle class="v" cx="1135.6" cy="727.4" r="1.05"/><circle class="v" cx="1134.6" cy="727.4" r="1.05"/><circle class="v" cx="1135.1" cy="726.2" r="1.05"/><circle class="v" cx="1134.9" cy="728.4" r="1.05"/><circle class="v" cx="1136.0" cy="727.0" r="1.05"/><circle class="v" cx="1134.7" cy="727.8" r="1.05"/><circle class="v" cx="1134.3" cy="726.2" r="1.05"/><circle class="v" cx="1136.7" cy="727.5" r="1.05"/><circle class="v" cx="1135.1" cy="727.2" r="1.05"/><circle class="v" cx="1135.2" cy="725.6" r="1.05"/><circle class="v" cx="1136.4" cy="726.7" r="1.05"/><circle class="v" cx="1136.2" cy="727.3" r="1.05"/><circle class="v" cx="1134.6" cy="726.8" r="1.05"/><circle class="v" cx="1134.7" cy="726.9" r="1.05"/></g>
<g opacity=".62">
<g id="lpd"><circle class="m" cx="775.1" cy="281.2" r="2.12"/><circle class="m" cx="703.4" cy="326.7" r="2.12"/><circle class="m" cx="714.6" cy="345.1" r="2.12"/><circle class="m" cx="668.8" cy="387.2" r="2.12"/><circle class="m" cx="384.0" cy="424.5" r="2.12"/><circle class="m" cx="344.0" cy="442.4" r="2.12"/><circle class="m" cx="344.6" cy="442.2" r="2.12"/><circle class="m" cx="365.3" cy="479.6" r="2.12"/><circle class="m" cx="759.4" cy="477.0" r="2.12"/><circle class="m" cx="361.3" cy="485.5" r="2.12"/><circle class="m" cx="374.1" cy="501.4" r="2.12"/><circle class="m" cx="340.3" cy="526.6" r="2.12"/><circle class="m" cx="406.1" cy="538.5" r="2.12"/><circle class="m" cx="608.1" cy="543.8" r="2.12"/><circle class="m" cx="357.3" cy="557.4" r="2.12"/><circle class="m" cx="415.4" cy="560.1" r="2.12"/><circle class="m" cx="603.3" cy="569.4" r="2.12"/><circle class="m" cx="352.5" cy="588.8" r="2.12"/><circle class="m" cx="365.8" cy="588.8" r="2.12"/><circle class="m" cx="345.1" cy="593.6" r="2.12"/><circle class="m" cx="347.7" cy="605.9" r="2.12"/><circle class="m" cx="353.9" cy="613.9" r="2.12"/><circle class="m" cx="366.6" cy="613.1" r="2.12"/><circle class="m" cx="566.2" cy="615.5" r="2.12"/><circle class="m" cx="638.4" cy="616.5" r="2.12"/><circle class="m" cx="345.9" cy="629.9" r="2.12"/><circle class="m" cx="343.0" cy="648.3" r="2.12"/><circle class="m" cx="349.3" cy="677.8" r="2.12"/><circle class="m" cx="339.2" cy="676.2" r="2.12"/><circle class="m" cx="191.1" cy="417.9" r="2.12"/><circle class="m" cx="172.0" cy="441.7" r="2.12"/><circle class="m" cx="204.9" cy="446.0" r="2.12"/><circle class="m" cx="231.6" cy="531.4" r="2.12"/><circle class="m" cx="200.6" cy="535.7" r="2.12"/><circle class="m" cx="197.9" cy="538.4" r="2.12"/><circle class="m" cx="217.8" cy="536.8" r="2.12"/><circle class="m" cx="222.1" cy="538.5" r="2.12"/><circle class="m" cx="222.6" cy="538.9" r="2.12"/><circle class="m" cx="232.1" cy="538.5" r="2.12"/><circle class="m" cx="232.5" cy="538.2" r="2.12"/><circle class="m" cx="226.4" cy="545.2" r="2.12"/><circle class="m" cx="196.2" cy="545.5" r="2.12"/><circle class="m" cx="187.0" cy="547.4" r="2.12"/><circle class="m" cx="93.1" cy="557.6" r="2.12"/><circle class="m" cx="225.1" cy="557.7" r="2.12"/><circle class="m" cx="220.5" cy="559.2" r="2.12"/><circle class="m" cx="209.1" cy="560.0" r="2.12"/><circle class="m" cx="215.1" cy="562.4" r="2.12"/><circle class="m" cx="236.1" cy="562.7" r="2.12"/><circle class="m" cx="85.9" cy="577.9" r="2.12"/><circle class="m" cx="204.1" cy="576.3" r="2.12"/><circle class="m" cx="208.1" cy="579.0" r="2.12"/><circle class="m" cx="208.6" cy="579.6" r="2.12"/><circle class="m" cx="209.4" cy="580.9" r="2.12"/><circle class="m" cx="233.5" cy="577.8" r="2.12"/><circle class="m" cx="227.2" cy="579.5" r="2.12"/><circle class="m" cx="222.4" cy="583.0" r="2.12"/><circle class="m" cx="158.8" cy="580.6" r="2.12"/><circle class="m" cx="213.8" cy="586.3" r="2.12"/><circle class="m" cx="202.7" cy="587.3" r="2.12"/><circle class="m" cx="122.6" cy="594.6" r="2.12"/><circle class="m" cx="229.1" cy="591.9" r="2.12"/><circle class="m" cx="216.8" cy="593.5" r="2.12"/><circle class="m" cx="232.1" cy="596.8" r="2.12"/><circle class="m" cx="212.7" cy="602.2" r="2.12"/><circle class="m" cx="232.4" cy="602.7" r="2.12"/><circle class="m" cx="232.9" cy="602.3" r="2.12"/><circle class="m" cx="220.7" cy="604.0" r="2.12"/><circle class="m" cx="197.8" cy="606.2" r="2.12"/><circle class="m" cx="202.2" cy="608.4" r="2.12"/><circle class="m" cx="221.0" cy="609.9" r="2.12"/><circle class="m" cx="216.4" cy="611.3" r="2.12"/><circle class="m" cx="228.0" cy="609.9" r="2.12"/><circle class="m" cx="231.6" cy="611.5" r="2.12"/><circle class="m" cx="236.4" cy="613.2" r="2.12"/><circle class="m" cx="236.1" cy="621.1" r="2.12"/><circle class="m" cx="220.5" cy="622.7" r="2.12"/><circle class="m" cx="228.4" cy="623.1" r="2.12"/><circle class="m" cx="220.3" cy="627.4" r="2.12"/><circle class="m" cx="232.1" cy="642.3" r="2.12"/><circle class="m" cx="216.8" cy="647.8" r="2.12"/><circle class="m" cx="178.5" cy="650.0" r="2.12"/><circle class="m" cx="229.2" cy="656.1" r="2.12"/><circle class="m" cx="223.5" cy="657.1" r="2.12"/><circle class="m" cx="219.2" cy="660.3" r="2.12"/><circle class="m" cx="223.0" cy="661.2" r="2.12"/><circle class="m" cx="208.0" cy="661.5" r="2.12"/><circle class="m" cx="232.1" cy="658.5" r="2.12"/><circle class="m" cx="233.5" cy="659.5" r="2.12"/><circle class="m" cx="234.6" cy="658.2" r="2.12"/><circle class="m" cx="235.5" cy="660.5" r="2.12"/><circle class="m" cx="231.2" cy="660.8" r="2.12"/><circle class="m" cx="233.0" cy="661.6" r="2.12"/><circle class="m" cx="236.0" cy="657.6" r="2.12"/><circle class="m" cx="234.0" cy="660.0" r="2.12"/><circle class="m" cx="235.0" cy="659.0" r="2.12"/><circle class="m" cx="233.2" cy="657.8" r="2.12"/><circle class="m" cx="236.5" cy="661.0" r="2.12"/><circle class="m" cx="202.4" cy="665.2" r="2.12"/><circle class="m" cx="216.5" cy="666.3" r="2.12"/><circle class="m" cx="220.3" cy="664.4" r="2.12"/><circle class="m" cx="225.4" cy="667.9" r="2.12"/><circle class="m" cx="234.3" cy="665.5" r="2.12"/><circle class="m" cx="235.9" cy="669.8" r="2.12"/><circle class="m" cx="188.6" cy="667.9" r="2.12"/><circle class="m" cx="193.4" cy="669.3" r="2.12"/><circle class="m" cx="197.5" cy="674.9" r="2.12"/><circle class="m" cx="230.6" cy="673.2" r="2.12"/><circle class="m" cx="168.7" cy="670.0" r="2.12"/><circle class="m" cx="169.4" cy="669.6" r="2.12"/><circle class="m" cx="170.8" cy="668.9" r="2.12"/><circle class="m" cx="173.8" cy="669.3" r="2.12"/></g>
<g id="rpd"><circle class="m n" cx="1234.1" cy="288.4" r="2.12"/><circle class="m n" cx="1680.9" cy="301.9" r="2.12"/><circle class="m n" cx="1473.9" cy="351.2" r="2.12"/><circle class="m n" cx="1197.3" cy="379.4" r="2.12"/><circle class="m n" cx="1203.5" cy="379.7" r="2.12"/><circle class="m n" cx="1214.3" cy="378.2" r="2.12"/><circle class="m n" cx="1317.8" cy="413.8" r="2.12"/><circle class="m n" cx="1206.8" cy="455.9" r="2.12"/><circle class="m n" cx="1190.1" cy="477.7" r="2.12"/><circle class="m n" cx="1340.5" cy="472.7" r="2.12"/><circle class="m n" cx="1351.9" cy="477.8" r="2.12"/><circle class="m n" cx="1355.5" cy="498.7" r="2.12"/><circle class="m n" cx="1270.2" cy="530.4" r="2.12"/><circle class="m n" cx="1187.6" cy="562.1" r="2.12"/><circle class="m n" cx="1381.5" cy="574.7" r="2.12"/><circle class="m n" cx="1191.1" cy="608.4" r="2.12"/><circle class="m n" cx="1184.6" cy="611.3" r="2.12"/><circle class="m n" cx="1204.7" cy="608.8" r="2.12"/><circle class="m n" cx="1219.4" cy="618.1" r="2.12"/><circle class="m n" cx="1187.0" cy="648.3" r="2.12"/><circle class="m n" cx="1195.8" cy="654.3" r="2.12"/><circle class="m n" cx="1202.3" cy="646.2" r="2.12"/><circle class="m n" cx="1210.4" cy="644.1" r="2.12"/><circle class="m n" cx="1221.2" cy="646.5" r="2.12"/><circle class="m n" cx="1077.0" cy="449.9" r="2.12"/><circle class="m n" cx="1084.4" cy="468.6" r="2.12"/><circle class="m n" cx="1078.4" cy="498.7" r="2.12"/><circle class="m n" cx="965.7" cy="505.3" r="2.12"/><circle class="m n" cx="1001.5" cy="505.8" r="2.12"/><circle class="m n" cx="1058.3" cy="514.1" r="2.12"/><circle class="m n" cx="1073.7" cy="514.8" r="2.12"/><circle class="m n" cx="1079.7" cy="516.0" r="2.12"/><circle class="m n" cx="1052.2" cy="521.1" r="2.12"/><circle class="m n" cx="1063.8" cy="522.1" r="2.12"/><circle class="m n" cx="1072.9" cy="528.7" r="2.12"/><circle class="m n" cx="1017.2" cy="546.7" r="2.12"/><circle class="m n" cx="1085.4" cy="549.5" r="2.12"/><circle class="m n" cx="1085.9" cy="549.9" r="2.12"/><circle class="m n" cx="1080.7" cy="553.0" r="2.12"/><circle class="m n" cx="1057.5" cy="552.3" r="2.12"/><circle class="m n" cx="1053.1" cy="553.6" r="2.12"/><circle class="m n" cx="1021.1" cy="564.0" r="2.12"/><circle class="m n" cx="1080.3" cy="562.1" r="2.12"/><circle class="m n" cx="1080.9" cy="562.6" r="2.12"/><circle class="m n" cx="1082.2" cy="563.6" r="2.12"/><circle class="m n" cx="1066.3" cy="569.0" r="2.12"/><circle class="m n" cx="1049.3" cy="575.8" r="2.12"/><circle class="m n" cx="1063.7" cy="579.9" r="2.12"/><circle class="m n" cx="1072.0" cy="580.5" r="2.12"/><circle class="m n" cx="1047.7" cy="586.8" r="2.12"/><circle class="m n" cx="1067.5" cy="590.5" r="2.12"/><circle class="m n" cx="1081.1" cy="589.3" r="2.12"/><circle class="m n" cx="1088.5" cy="597.5" r="2.12"/><circle class="m n" cx="1073.2" cy="606.9" r="2.12"/><circle class="m n" cx="997.2" cy="610.4" r="2.12"/><circle class="m n" cx="995.0" cy="617.8" r="2.12"/><circle class="m n" cx="1080.0" cy="617.0" r="2.12"/><circle class="m n" cx="1083.5" cy="626.6" r="2.12"/><circle class="m n" cx="1083.9" cy="626.2" r="2.12"/><circle class="m n" cx="1077.0" cy="637.6" r="2.12"/><circle class="m n" cx="1086.1" cy="642.8" r="2.12"/><circle class="m n" cx="1085.5" cy="642.0" r="2.12"/><circle class="m n" cx="1065.3" cy="647.0" r="2.12"/><circle class="m n" cx="1072.2" cy="649.2" r="2.12"/><circle class="m n" cx="1075.8" cy="671.4" r="2.12"/><circle class="m n" cx="1075.8" cy="676.7" r="2.12"/><circle class="m n" cx="1088.8" cy="676.4" r="2.12"/><circle class="m n" cx="1088.4" cy="676.8" r="2.12"/></g>
</g>
<g>
<!-- LEFT PLOT frame -->
<g stroke="#111" stroke-width="1.3" fill="none">
<rect x="58.6" y="265.4" width="744.3" height="452"/>
<line x1="236.9" y1="265.4" x2="236.9" y2="717.4" stroke-width="1.6" stroke="#1c1c1c"/>
<line x1="339.2" y1="265.4" x2="339.2" y2="717.4" stroke-width="1.1" stroke="#333"/>
<line x1="58.6" y1="682.5" x2="803" y2="682.5" stroke-width="1.5"/>
<path d="M51 278H58.6M51 348.5H58.6M51 419H58.6M51 489.5H58.6M51 560H58.6M51 630.2H58.6M51 700.5H58.6"/>
<path d="M803 278H810.6M803 348.5H810.6M803 419H810.6M803 489.5H810.6M803 560H810.6M803 630.2H810.6M803 700.5H810.6"/>
<path d="M83.2 717.4V726M185.4 717.4V726M287.6 717.4V726M389.8 717.4V726M492 717.4V726M594.2 717.4V726M696.6 717.4V726M798.6 717.4V726"/>
</g>
<!-- RIGHT PLOT frame -->
<g stroke="#111" stroke-width="1.2" fill="none">
<rect x="937.8" y="270.4" width="772.5" height="473.7"/>
<line x1="937.8" y1="274" x2="937.8" y2="726.8" stroke-width="1.6" stroke="#1c1c1c"/>
<line x1="1710.3" y1="274" x2="1710.3" y2="726.8" stroke-width="1.6"/>
<line x1="1089.8" y1="270.4" x2="1089.8" y2="744.1" stroke-width="1.3" stroke="#262626"/>
<line x1="1182.2" y1="270.4" x2="1182.2" y2="744.1" stroke-width="1.1" stroke="#a4a4a4"/>
<line x1="937.8" y1="703.2" x2="1710.3" y2="703.2" stroke-width="1.5"/>
<path d="M930 274H937.8M930 364.5H937.8M930 455H937.8M930 545.6H937.8M930 636.2H937.8M930 726.8H937.8"/>
<path d="M1710.3 274H1718M1710.3 364.5H1718M1710.3 455H1718M1710.3 545.6H1718M1710.3 636.2H1718M1710.3 726.8H1718"/>
<path d="M1136 744.1V753M1366.7 744.1V753M1597.4 744.1V753"/>
</g>
<text class="ax" font-size="12.3" text-anchor="middle" transform="translate(42.6,700.5) rotate(-90) scale(1.2,1)">0</text><text class="ax" font-size="12.3" text-anchor="middle" transform="translate(42.6,630.2) rotate(-90) scale(1.2,1)">5</text><text class="ax" font-size="12.3" text-anchor="middle" transform="translate(42.6,560) rotate(-90) scale(1.2,1)">10</text><text class="ax" font-size="12.3" text-anchor="middle" transform="translate(42.6,489.5) rotate(-90) scale(1.2,1)">15</text><text class="ax" font-size="12.3" text-anchor="middle" transform="translate(42.6,419) rotate(-90) scale(1.2,1)">20</text><text class="ax" font-size="12.3" text-anchor="middle" transform="translate(42.6,348.5) rotate(-90) scale(1.2,1)">25</text><text class="ax" font-size="12.3" text-anchor="middle" transform="translate(42.6,278) rotate(-90) scale(1.2,1)">30</text>
<text class="ax" font-size="12.3" text-anchor="middle" transform="translate(832.2,700.5) rotate(-90) scale(1.2,1)">0</text><text class="ax" font-size="12.3" text-anchor="middle" transform="translate(832.2,630.2) rotate(-90) scale(1.2,1)">5</text><text class="ax" font-size="12.3" text-anchor="middle" transform="translate(832.2,560) rotate(-90) scale(1.2,1)">10</text><text class="ax" font-size="12.3" text-anchor="middle" transform="translate(832.2,489.5) rotate(-90) scale(1.2,1)">15</text><text class="ax" font-size="12.3" text-anchor="middle" transform="translate(832.2,419) rotate(-90) scale(1.2,1)">20</text><text class="ax" font-size="12.3" text-anchor="middle" transform="translate(832.2,348.5) rotate(-90) scale(1.2,1)">25</text><text class="ax" font-size="12.3" text-anchor="middle" transform="translate(832.2,278) rotate(-90) scale(1.2,1)">30</text>
<text class="ax" font-size="13" text-anchor="middle" transform="translate(921.2,726.8) rotate(-90) scale(1.12,1)">0</text><text class="ax" font-size="13" text-anchor="middle" transform="translate(921.2,636.2) rotate(-90) scale(1.12,1)">5</text><text class="ax" font-size="13" text-anchor="middle" transform="translate(921.2,545.6) rotate(-90) scale(1.12,1)">10</text><text class="ax" font-size="13" text-anchor="middle" transform="translate(921.2,455) rotate(-90) scale(1.12,1)">15</text><text class="ax" font-size="13" text-anchor="middle" transform="translate(921.2,364.5) rotate(-90) scale(1.12,1)">20</text><text class="ax" font-size="13" text-anchor="middle" transform="translate(921.2,274) rotate(-90) scale(1.12,1)">25</text>
<text class="ax" font-size="13" text-anchor="middle" transform="translate(1739,726.8) rotate(-90) scale(1.12,1)">0</text><text class="ax" font-size="13" text-anchor="middle" transform="translate(1739,636.2) rotate(-90) scale(1.12,1)">5</text><text class="ax" font-size="13" text-anchor="middle" transform="translate(1739,545.6) rotate(-90) scale(1.12,1)">10</text><text class="ax" font-size="13" text-anchor="middle" transform="translate(1739,455) rotate(-90) scale(1.12,1)">15</text><text class="ax" font-size="13" text-anchor="middle" transform="translate(1739,364.5) rotate(-90) scale(1.12,1)">20</text><text class="ax" font-size="13" text-anchor="middle" transform="translate(1739,274) rotate(-90) scale(1.12,1)">25</text>
<text class="ax" font-size="12" text-anchor="middle" transform="translate(83.2,749.1) scale(1,1.32)">-4</text>
<text class="ax" font-size="12" text-anchor="middle" transform="translate(185.4,749.1) scale(1,1.32)">-2</text>
<text class="ax" font-size="12" text-anchor="middle" transform="translate(287.6,749.1) scale(1,1.32)">0</text>
<text class="ax" font-size="12" text-anchor="middle" transform="translate(389.8,749.1) scale(1,1.32)">2</text>
<text class="ax" font-size="12" text-anchor="middle" transform="translate(492,749.1) scale(1,1.32)">4</text>
<text class="ax" font-size="12" text-anchor="middle" transform="translate(594.2,749.1) scale(1,1.32)">6</text>
<text class="ax" font-size="12" text-anchor="middle" transform="translate(696.6,749.1) scale(1,1.32)">8</text>
<text class="ax" font-size="12" text-anchor="middle" transform="translate(798.6,749.1) scale(1,1.32)">10</text>
<text class="ax" font-size="13.6" text-anchor="middle" transform="translate(1136.5,777.3) scale(1,1.1)">0</text>
<text class="ax" font-size="13.6" text-anchor="middle" transform="translate(1367.2,777.3) scale(1,1.1)">5</text>
<text class="ax" font-size="13.6" text-anchor="middle" transform="translate(1597.9,777.3) scale(1,1.1)">10</text>
<text class="ax" font-size="12.5" text-anchor="middle" transform="translate(430.5,780.3) scale(1,1.1)">log2 (FC)</text>
<text class="ax" font-size="13" text-anchor="middle" x="1323.3" y="810.6">log2 (FC)</text>
<text class="ax" font-size="12.5" text-anchor="middle" transform="translate(12.8,491.4) rotate(-90) scale(1.14,1)"><tspan fill="#c8c8c8">-</tspan>log10(p)</text>
<text class="ax" font-size="12.5" text-anchor="middle" transform="translate(890.9,507.8) rotate(-90) scale(1.14,1)">-log10(p)</text>
</g>
</svg>
</body>
</html>
